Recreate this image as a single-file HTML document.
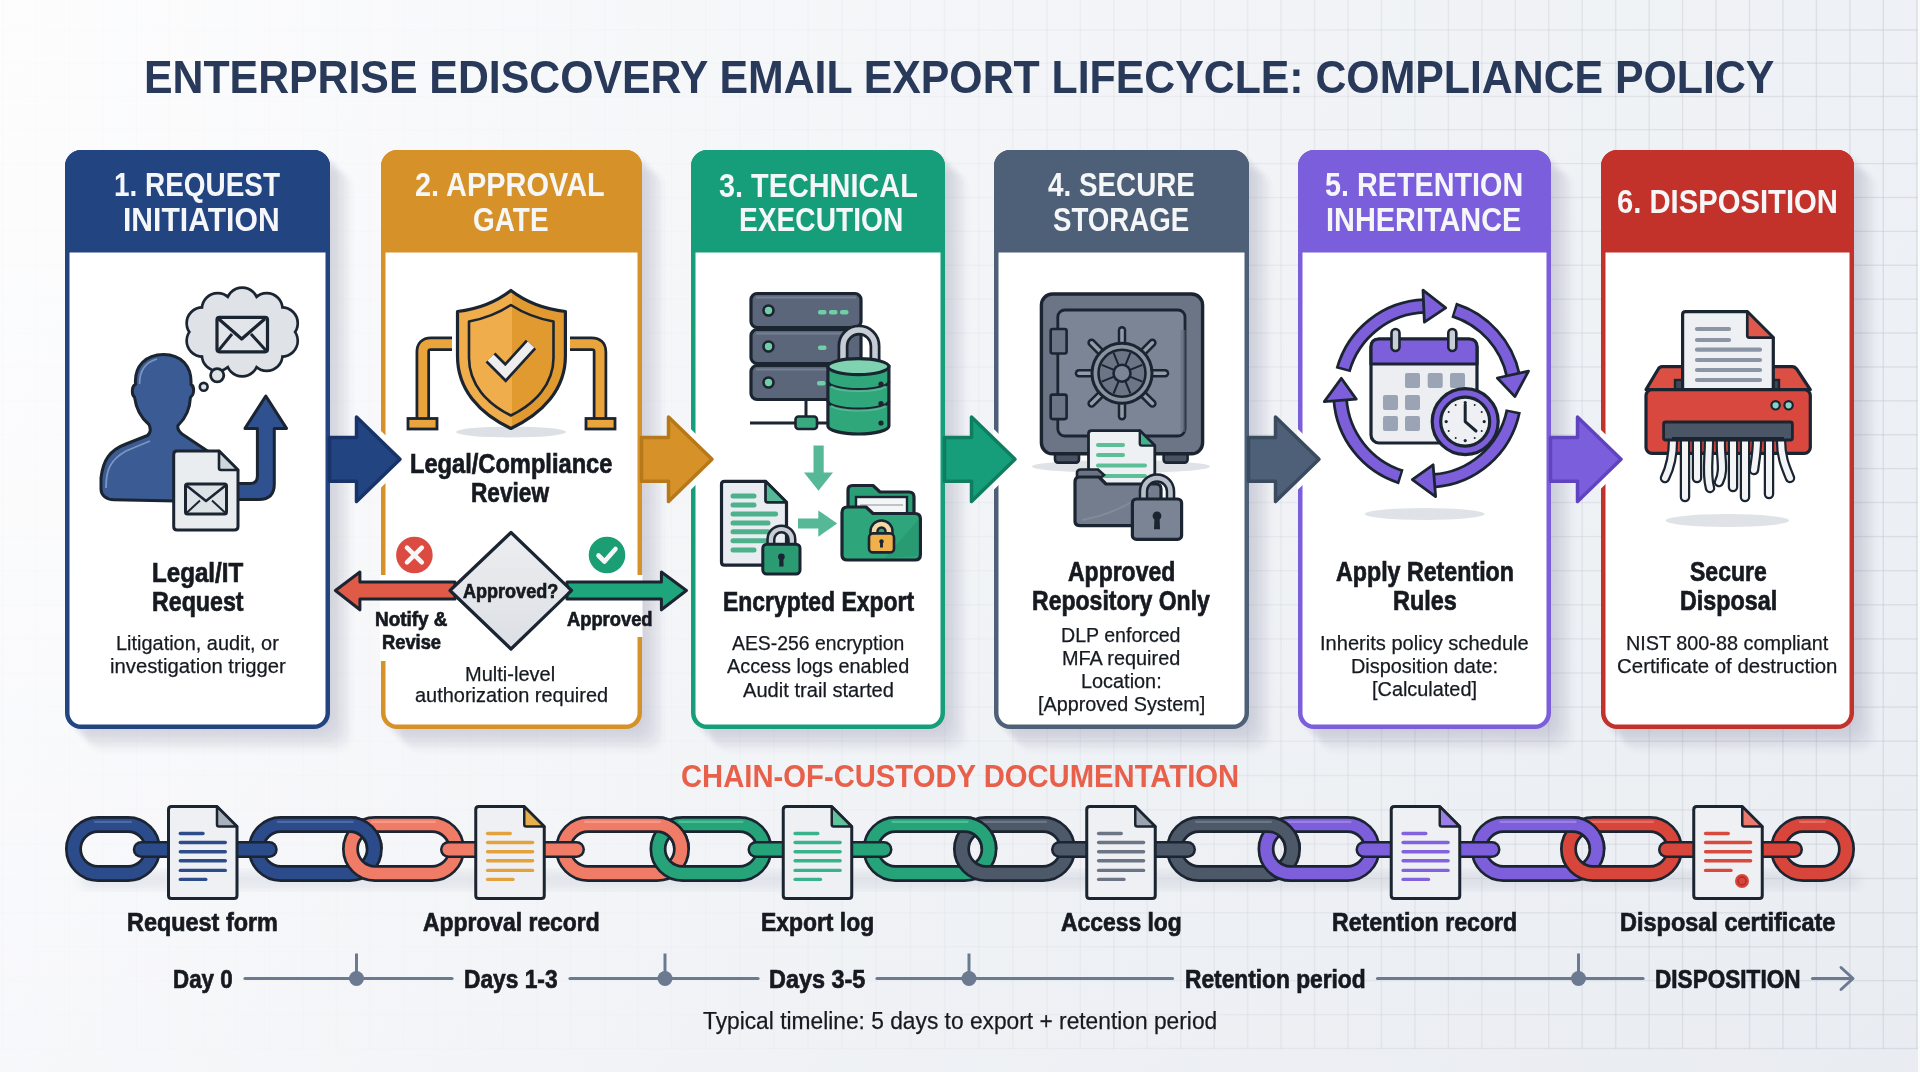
<!DOCTYPE html>
<html><head><meta charset="utf-8"><title>eDiscovery Email Export Lifecycle</title>
<style>
html,body{margin:0;padding:0;}
body{width:1920px;height:1072px;overflow:hidden;position:relative;font-family:"Liberation Sans",sans-serif;
background:linear-gradient(180deg,rgba(120,140,170,0) 0%,rgba(120,140,170,.015) 50%,rgba(120,140,170,.045) 100%),linear-gradient(90deg,#fdfdfe 0%,#f7f8fa 30%,#f2f4f7 60%,#eef1f5 100%);}
.grid{position:absolute;left:0;top:0;width:1918px;height:1050px;
background-image:linear-gradient(90deg,rgba(196,204,215,.55) 1.4px,transparent 1.4px),linear-gradient(0deg,transparent calc(100% - 1.4px),rgba(196,204,215,.55) calc(100% - 1.4px));
background-size:33.57px 100%,100% 33.92px;background-position:2.1px 0,0 -3.02px;
-webkit-mask-image:linear-gradient(90deg,rgba(0,0,0,.06),rgba(0,0,0,.1) 35%,rgba(0,0,0,.4) 60%,rgba(0,0,0,.8) 85%,rgba(0,0,0,1));mask-image:linear-gradient(90deg,rgba(0,0,0,.06),rgba(0,0,0,.1) 35%,rgba(0,0,0,.4) 60%,rgba(0,0,0,.8) 85%,rgba(0,0,0,1));}
.edge{position:absolute;left:1918px;top:0;width:2px;height:1072px;background:#fbfbfc;}
.ov{position:absolute;left:0;top:0;}
.t{position:absolute;white-space:nowrap;line-height:1;transform-origin:0 0;font-family:"Liberation Sans",sans-serif;}
</style></head><body>
<svg class="ov" width="1920" height="1072">
<defs><linearGradient id="hg" gradientUnits="userSpaceOnUse" x1="0" y1="0" x2="1920" y2="0">
<stop offset="0" stop-color="#c6ccd5" stop-opacity="0.030"/>
<stop offset="0.35" stop-color="#c6ccd5" stop-opacity="0.050"/>
<stop offset="0.6" stop-color="#c6ccd5" stop-opacity="0.200"/>
<stop offset="0.85" stop-color="#c6ccd5" stop-opacity="0.400"/>
<stop offset="1" stop-color="#c6ccd5" stop-opacity="0.500"/>
</linearGradient></defs>
<rect x="0" y="29.30" width="1918" height="1.4" fill="url(#hg)"/>
<rect x="0" y="62.53" width="1918" height="1.4" fill="url(#hg)"/>
<rect x="0" y="95.77" width="1918" height="1.4" fill="url(#hg)"/>
<rect x="0" y="129.00" width="1918" height="1.4" fill="url(#hg)"/>
<rect x="0" y="162.89" width="1918" height="1.4" fill="url(#hg)"/>
<rect x="0" y="196.78" width="1918" height="1.4" fill="url(#hg)"/>
<rect x="0" y="230.67" width="1918" height="1.4" fill="url(#hg)"/>
<rect x="0" y="264.56" width="1918" height="1.4" fill="url(#hg)"/>
<rect x="0" y="298.45" width="1918" height="1.4" fill="url(#hg)"/>
<rect x="0" y="332.35" width="1918" height="1.4" fill="url(#hg)"/>
<rect x="0" y="366.24" width="1918" height="1.4" fill="url(#hg)"/>
<rect x="0" y="400.13" width="1918" height="1.4" fill="url(#hg)"/>
<rect x="0" y="434.02" width="1918" height="1.4" fill="url(#hg)"/>
<rect x="0" y="467.91" width="1918" height="1.4" fill="url(#hg)"/>
<rect x="0" y="501.80" width="1918" height="1.4" fill="url(#hg)"/>
<rect x="0" y="535.90" width="1918" height="1.4" fill="url(#hg)"/>
<rect x="0" y="570.00" width="1918" height="1.4" fill="url(#hg)"/>
<rect x="0" y="604.10" width="1918" height="1.4" fill="url(#hg)"/>
<rect x="0" y="638.20" width="1918" height="1.4" fill="url(#hg)"/>
<rect x="0" y="672.30" width="1918" height="1.4" fill="url(#hg)"/>
<rect x="0" y="706.40" width="1918" height="1.4" fill="url(#hg)"/>
<rect x="0" y="740.50" width="1918" height="1.4" fill="url(#hg)"/>
<rect x="0" y="774.82" width="1918" height="1.4" fill="url(#hg)"/>
<rect x="0" y="809.14" width="1918" height="1.4" fill="url(#hg)"/>
<rect x="0" y="843.46" width="1918" height="1.4" fill="url(#hg)"/>
<rect x="0" y="877.78" width="1918" height="1.4" fill="url(#hg)"/>
<rect x="0" y="912.10" width="1918" height="1.4" fill="url(#hg)"/>
<rect x="0" y="946.02" width="1918" height="1.4" fill="url(#hg)"/>
<rect x="0" y="979.95" width="1918" height="1.4" fill="url(#hg)"/>
<rect x="0" y="1013.88" width="1918" height="1.4" fill="url(#hg)"/>
<rect x="0" y="1047.80" width="1918" height="1.4" fill="url(#hg)"/>
<rect x="2.10" y="0" width="1.4" height="1049" fill="#c6ccd5" fill-opacity="0.030"/>
<rect x="35.46" y="0" width="1.4" height="1049" fill="#c6ccd5" fill-opacity="0.031"/>
<rect x="68.82" y="0" width="1.4" height="1049" fill="#c6ccd5" fill-opacity="0.032"/>
<rect x="102.17" y="0" width="1.4" height="1049" fill="#c6ccd5" fill-opacity="0.033"/>
<rect x="135.53" y="0" width="1.4" height="1049" fill="#c6ccd5" fill-opacity="0.034"/>
<rect x="168.89" y="0" width="1.4" height="1049" fill="#c6ccd5" fill-opacity="0.035"/>
<rect x="202.25" y="0" width="1.4" height="1049" fill="#c6ccd5" fill-opacity="0.036"/>
<rect x="235.61" y="0" width="1.4" height="1049" fill="#c6ccd5" fill-opacity="0.037"/>
<rect x="268.97" y="0" width="1.4" height="1049" fill="#c6ccd5" fill-opacity="0.038"/>
<rect x="302.33" y="0" width="1.4" height="1049" fill="#c6ccd5" fill-opacity="0.039"/>
<rect x="335.68" y="0" width="1.4" height="1049" fill="#c6ccd5" fill-opacity="0.040"/>
<rect x="369.04" y="0" width="1.4" height="1049" fill="#c6ccd5" fill-opacity="0.041"/>
<rect x="402.40" y="0" width="1.4" height="1049" fill="#c6ccd5" fill-opacity="0.042"/>
<rect x="435.96" y="0" width="1.4" height="1049" fill="#c6ccd5" fill-opacity="0.043"/>
<rect x="469.53" y="0" width="1.4" height="1049" fill="#c6ccd5" fill-opacity="0.044"/>
<rect x="503.09" y="0" width="1.4" height="1049" fill="#c6ccd5" fill-opacity="0.045"/>
<rect x="536.65" y="0" width="1.4" height="1049" fill="#c6ccd5" fill-opacity="0.046"/>
<rect x="570.21" y="0" width="1.4" height="1049" fill="#c6ccd5" fill-opacity="0.047"/>
<rect x="603.77" y="0" width="1.4" height="1049" fill="#c6ccd5" fill-opacity="0.048"/>
<rect x="637.34" y="0" width="1.4" height="1049" fill="#c6ccd5" fill-opacity="0.049"/>
<rect x="670.90" y="0" width="1.4" height="1049" fill="#c6ccd5" fill-opacity="0.050"/>
<rect x="705.02" y="0" width="1.4" height="1049" fill="#c6ccd5" fill-opacity="0.061"/>
<rect x="739.14" y="0" width="1.4" height="1049" fill="#c6ccd5" fill-opacity="0.071"/>
<rect x="773.25" y="0" width="1.4" height="1049" fill="#c6ccd5" fill-opacity="0.082"/>
<rect x="807.37" y="0" width="1.4" height="1049" fill="#c6ccd5" fill-opacity="0.093"/>
<rect x="841.49" y="0" width="1.4" height="1049" fill="#c6ccd5" fill-opacity="0.103"/>
<rect x="875.61" y="0" width="1.4" height="1049" fill="#c6ccd5" fill-opacity="0.114"/>
<rect x="909.73" y="0" width="1.4" height="1049" fill="#c6ccd5" fill-opacity="0.125"/>
<rect x="943.85" y="0" width="1.4" height="1049" fill="#c6ccd5" fill-opacity="0.135"/>
<rect x="977.96" y="0" width="1.4" height="1049" fill="#c6ccd5" fill-opacity="0.146"/>
<rect x="1012.08" y="0" width="1.4" height="1049" fill="#c6ccd5" fill-opacity="0.156"/>
<rect x="1046.20" y="0" width="1.4" height="1049" fill="#c6ccd5" fill-opacity="0.167"/>
<rect x="1079.66" y="0" width="1.4" height="1049" fill="#c6ccd5" fill-opacity="0.178"/>
<rect x="1113.12" y="0" width="1.4" height="1049" fill="#c6ccd5" fill-opacity="0.188"/>
<rect x="1146.57" y="0" width="1.4" height="1049" fill="#c6ccd5" fill-opacity="0.199"/>
<rect x="1180.03" y="0" width="1.4" height="1049" fill="#c6ccd5" fill-opacity="0.212"/>
<rect x="1213.49" y="0" width="1.4" height="1049" fill="#c6ccd5" fill-opacity="0.226"/>
<rect x="1246.95" y="0" width="1.4" height="1049" fill="#c6ccd5" fill-opacity="0.240"/>
<rect x="1280.40" y="0" width="1.4" height="1049" fill="#c6ccd5" fill-opacity="0.254"/>
<rect x="1313.86" y="0" width="1.4" height="1049" fill="#c6ccd5" fill-opacity="0.268"/>
<rect x="1347.32" y="0" width="1.4" height="1049" fill="#c6ccd5" fill-opacity="0.282"/>
<rect x="1380.78" y="0" width="1.4" height="1049" fill="#c6ccd5" fill-opacity="0.296"/>
<rect x="1414.23" y="0" width="1.4" height="1049" fill="#c6ccd5" fill-opacity="0.310"/>
<rect x="1447.69" y="0" width="1.4" height="1049" fill="#c6ccd5" fill-opacity="0.323"/>
<rect x="1481.15" y="0" width="1.4" height="1049" fill="#c6ccd5" fill-opacity="0.337"/>
<rect x="1514.61" y="0" width="1.4" height="1049" fill="#c6ccd5" fill-opacity="0.351"/>
<rect x="1548.07" y="0" width="1.4" height="1049" fill="#c6ccd5" fill-opacity="0.365"/>
<rect x="1581.52" y="0" width="1.4" height="1049" fill="#c6ccd5" fill-opacity="0.379"/>
<rect x="1614.98" y="0" width="1.4" height="1049" fill="#c6ccd5" fill-opacity="0.393"/>
<rect x="1648.44" y="0" width="1.4" height="1049" fill="#c6ccd5" fill-opacity="0.406"/>
<rect x="1681.90" y="0" width="1.4" height="1049" fill="#c6ccd5" fill-opacity="0.418"/>
<rect x="1715.35" y="0" width="1.4" height="1049" fill="#c6ccd5" fill-opacity="0.429"/>
<rect x="1748.81" y="0" width="1.4" height="1049" fill="#c6ccd5" fill-opacity="0.441"/>
<rect x="1782.27" y="0" width="1.4" height="1049" fill="#c6ccd5" fill-opacity="0.452"/>
<rect x="1815.73" y="0" width="1.4" height="1049" fill="#c6ccd5" fill-opacity="0.464"/>
<rect x="1849.18" y="0" width="1.4" height="1049" fill="#c6ccd5" fill-opacity="0.476"/>
<rect x="1882.64" y="0" width="1.4" height="1049" fill="#c6ccd5" fill-opacity="0.487"/>
<rect x="1916.10" y="0" width="1.4" height="1049" fill="#c6ccd5" fill-opacity="0.499"/>
</svg><div class="edge"></div>
<svg class="ov" width="1920" height="1072" viewBox="0 0 1920 1072">
<defs>
<filter id="blur6" x="-20%" y="-20%" width="140%" height="140%"><feGaussianBlur stdDeviation="6"/></filter>
<filter id="blur3" x="-20%" y="-20%" width="140%" height="140%"><feGaussianBlur stdDeviation="3"/></filter>
<filter id="blur2" x="-20%" y="-20%" width="140%" height="140%"><feGaussianBlur stdDeviation="2"/></filter>
</defs>
<g filter="url(#blur2)">
<path d="M83.8,152.8 H316.8 A16,16 0 0 1 332.8,168.8 V715.8 A16,16 0 0 1 316.8,731.8 H83.8 A16,16 0 0 1 67.8,715.8 V168.8 A16,16 0 0 1 83.8,152.8 Z" fill="#5a6374" opacity="0.033"/>
<path d="M86.6,155.6 H319.6 A16,16 0 0 1 335.6,171.6 V718.6 A16,16 0 0 1 319.6,734.6 H86.6 A16,16 0 0 1 70.6,718.6 V171.6 A16,16 0 0 1 86.6,155.6 Z" fill="#5a6374" opacity="0.033"/>
<path d="M89.4,158.4 H322.4 A16,16 0 0 1 338.4,174.4 V721.4 A16,16 0 0 1 322.4,737.4 H89.4 A16,16 0 0 1 73.4,721.4 V174.4 A16,16 0 0 1 89.4,158.4 Z" fill="#5a6374" opacity="0.033"/>
<path d="M92.2,161.2 H325.2 A16,16 0 0 1 341.2,177.2 V724.2 A16,16 0 0 1 325.2,740.2 H92.2 A16,16 0 0 1 76.2,724.2 V177.2 A16,16 0 0 1 92.2,161.2 Z" fill="#5a6374" opacity="0.033"/>
<path d="M95,164 H328 A16,16 0 0 1 344,180 V727 A16,16 0 0 1 328,743 H95 A16,16 0 0 1 79,727 V180 A16,16 0 0 1 95,164 Z" fill="#5a6374" opacity="0.033"/>
<path d="M97.8,166.8 H330.8 A16,16 0 0 1 346.8,182.8 V729.8 A16,16 0 0 1 330.8,745.8 H97.8 A16,16 0 0 1 81.8,729.8 V182.8 A16,16 0 0 1 97.8,166.8 Z" fill="#5a6374" opacity="0.033"/>
<path d="M100.6,169.6 H333.6 A16,16 0 0 1 349.6,185.6 V732.6 A16,16 0 0 1 333.6,748.6 H100.6 A16,16 0 0 1 84.6,732.6 V185.6 A16,16 0 0 1 100.6,169.6 Z" fill="#5a6374" opacity="0.033"/>
<path d="M103.4,172.4 H336.4 A16,16 0 0 1 352.4,188.4 V735.4 A16,16 0 0 1 336.4,751.4 H103.4 A16,16 0 0 1 87.4,735.4 V188.4 A16,16 0 0 1 103.4,172.4 Z" fill="#5a6374" opacity="0.033"/>
<path d="M399.8,152.8 H628.8 A16,16 0 0 1 644.8,168.8 V715.8 A16,16 0 0 1 628.8,731.8 H399.8 A16,16 0 0 1 383.8,715.8 V168.8 A16,16 0 0 1 399.8,152.8 Z" fill="#5a6374" opacity="0.033"/>
<path d="M402.6,155.6 H631.6 A16,16 0 0 1 647.6,171.6 V718.6 A16,16 0 0 1 631.6,734.6 H402.6 A16,16 0 0 1 386.6,718.6 V171.6 A16,16 0 0 1 402.6,155.6 Z" fill="#5a6374" opacity="0.033"/>
<path d="M405.4,158.4 H634.4 A16,16 0 0 1 650.4,174.4 V721.4 A16,16 0 0 1 634.4,737.4 H405.4 A16,16 0 0 1 389.4,721.4 V174.4 A16,16 0 0 1 405.4,158.4 Z" fill="#5a6374" opacity="0.033"/>
<path d="M408.2,161.2 H637.2 A16,16 0 0 1 653.2,177.2 V724.2 A16,16 0 0 1 637.2,740.2 H408.2 A16,16 0 0 1 392.2,724.2 V177.2 A16,16 0 0 1 408.2,161.2 Z" fill="#5a6374" opacity="0.033"/>
<path d="M411,164 H640 A16,16 0 0 1 656,180 V727 A16,16 0 0 1 640,743 H411 A16,16 0 0 1 395,727 V180 A16,16 0 0 1 411,164 Z" fill="#5a6374" opacity="0.033"/>
<path d="M413.8,166.8 H642.8 A16,16 0 0 1 658.8,182.8 V729.8 A16,16 0 0 1 642.8,745.8 H413.8 A16,16 0 0 1 397.8,729.8 V182.8 A16,16 0 0 1 413.8,166.8 Z" fill="#5a6374" opacity="0.033"/>
<path d="M416.6,169.6 H645.6 A16,16 0 0 1 661.6,185.6 V732.6 A16,16 0 0 1 645.6,748.6 H416.6 A16,16 0 0 1 400.6,732.6 V185.6 A16,16 0 0 1 416.6,169.6 Z" fill="#5a6374" opacity="0.033"/>
<path d="M419.4,172.4 H648.4 A16,16 0 0 1 664.4,188.4 V735.4 A16,16 0 0 1 648.4,751.4 H419.4 A16,16 0 0 1 403.4,735.4 V188.4 A16,16 0 0 1 419.4,172.4 Z" fill="#5a6374" opacity="0.033"/>
<path d="M709.8,152.8 H931.8 A16,16 0 0 1 947.8,168.8 V715.8 A16,16 0 0 1 931.8,731.8 H709.8 A16,16 0 0 1 693.8,715.8 V168.8 A16,16 0 0 1 709.8,152.8 Z" fill="#5a6374" opacity="0.033"/>
<path d="M712.6,155.6 H934.6 A16,16 0 0 1 950.6,171.6 V718.6 A16,16 0 0 1 934.6,734.6 H712.6 A16,16 0 0 1 696.6,718.6 V171.6 A16,16 0 0 1 712.6,155.6 Z" fill="#5a6374" opacity="0.033"/>
<path d="M715.4,158.4 H937.4 A16,16 0 0 1 953.4,174.4 V721.4 A16,16 0 0 1 937.4,737.4 H715.4 A16,16 0 0 1 699.4,721.4 V174.4 A16,16 0 0 1 715.4,158.4 Z" fill="#5a6374" opacity="0.033"/>
<path d="M718.2,161.2 H940.2 A16,16 0 0 1 956.2,177.2 V724.2 A16,16 0 0 1 940.2,740.2 H718.2 A16,16 0 0 1 702.2,724.2 V177.2 A16,16 0 0 1 718.2,161.2 Z" fill="#5a6374" opacity="0.033"/>
<path d="M721,164 H943 A16,16 0 0 1 959,180 V727 A16,16 0 0 1 943,743 H721 A16,16 0 0 1 705,727 V180 A16,16 0 0 1 721,164 Z" fill="#5a6374" opacity="0.033"/>
<path d="M723.8,166.8 H945.8 A16,16 0 0 1 961.8,182.8 V729.8 A16,16 0 0 1 945.8,745.8 H723.8 A16,16 0 0 1 707.8,729.8 V182.8 A16,16 0 0 1 723.8,166.8 Z" fill="#5a6374" opacity="0.033"/>
<path d="M726.6,169.6 H948.6 A16,16 0 0 1 964.6,185.6 V732.6 A16,16 0 0 1 948.6,748.6 H726.6 A16,16 0 0 1 710.6,732.6 V185.6 A16,16 0 0 1 726.6,169.6 Z" fill="#5a6374" opacity="0.033"/>
<path d="M729.4,172.4 H951.4 A16,16 0 0 1 967.4,188.4 V735.4 A16,16 0 0 1 951.4,751.4 H729.4 A16,16 0 0 1 713.4,735.4 V188.4 A16,16 0 0 1 729.4,172.4 Z" fill="#5a6374" opacity="0.033"/>
<path d="M1012.8,152.8 H1235.8 A16,16 0 0 1 1251.8,168.8 V715.8 A16,16 0 0 1 1235.8,731.8 H1012.8 A16,16 0 0 1 996.8,715.8 V168.8 A16,16 0 0 1 1012.8,152.8 Z" fill="#5a6374" opacity="0.033"/>
<path d="M1015.6,155.6 H1238.6 A16,16 0 0 1 1254.6,171.6 V718.6 A16,16 0 0 1 1238.6,734.6 H1015.6 A16,16 0 0 1 999.6,718.6 V171.6 A16,16 0 0 1 1015.6,155.6 Z" fill="#5a6374" opacity="0.033"/>
<path d="M1018.4,158.4 H1241.4 A16,16 0 0 1 1257.4,174.4 V721.4 A16,16 0 0 1 1241.4,737.4 H1018.4 A16,16 0 0 1 1002.4,721.4 V174.4 A16,16 0 0 1 1018.4,158.4 Z" fill="#5a6374" opacity="0.033"/>
<path d="M1021.2,161.2 H1244.2 A16,16 0 0 1 1260.2,177.2 V724.2 A16,16 0 0 1 1244.2,740.2 H1021.2 A16,16 0 0 1 1005.2,724.2 V177.2 A16,16 0 0 1 1021.2,161.2 Z" fill="#5a6374" opacity="0.033"/>
<path d="M1024,164 H1247 A16,16 0 0 1 1263,180 V727 A16,16 0 0 1 1247,743 H1024 A16,16 0 0 1 1008,727 V180 A16,16 0 0 1 1024,164 Z" fill="#5a6374" opacity="0.033"/>
<path d="M1026.8,166.8 H1249.8 A16,16 0 0 1 1265.8,182.8 V729.8 A16,16 0 0 1 1249.8,745.8 H1026.8 A16,16 0 0 1 1010.8,729.8 V182.8 A16,16 0 0 1 1026.8,166.8 Z" fill="#5a6374" opacity="0.033"/>
<path d="M1029.6,169.6 H1252.6 A16,16 0 0 1 1268.6,185.6 V732.6 A16,16 0 0 1 1252.6,748.6 H1029.6 A16,16 0 0 1 1013.6,732.6 V185.6 A16,16 0 0 1 1029.6,169.6 Z" fill="#5a6374" opacity="0.033"/>
<path d="M1032.4,172.4 H1255.4 A16,16 0 0 1 1271.4,188.4 V735.4 A16,16 0 0 1 1255.4,751.4 H1032.4 A16,16 0 0 1 1016.4,735.4 V188.4 A16,16 0 0 1 1032.4,172.4 Z" fill="#5a6374" opacity="0.033"/>
<path d="M1316.8,152.8 H1537.8 A16,16 0 0 1 1553.8,168.8 V715.8 A16,16 0 0 1 1537.8,731.8 H1316.8 A16,16 0 0 1 1300.8,715.8 V168.8 A16,16 0 0 1 1316.8,152.8 Z" fill="#5a6374" opacity="0.033"/>
<path d="M1319.6,155.6 H1540.6 A16,16 0 0 1 1556.6,171.6 V718.6 A16,16 0 0 1 1540.6,734.6 H1319.6 A16,16 0 0 1 1303.6,718.6 V171.6 A16,16 0 0 1 1319.6,155.6 Z" fill="#5a6374" opacity="0.033"/>
<path d="M1322.4,158.4 H1543.4 A16,16 0 0 1 1559.4,174.4 V721.4 A16,16 0 0 1 1543.4,737.4 H1322.4 A16,16 0 0 1 1306.4,721.4 V174.4 A16,16 0 0 1 1322.4,158.4 Z" fill="#5a6374" opacity="0.033"/>
<path d="M1325.2,161.2 H1546.2 A16,16 0 0 1 1562.2,177.2 V724.2 A16,16 0 0 1 1546.2,740.2 H1325.2 A16,16 0 0 1 1309.2,724.2 V177.2 A16,16 0 0 1 1325.2,161.2 Z" fill="#5a6374" opacity="0.033"/>
<path d="M1328,164 H1549 A16,16 0 0 1 1565,180 V727 A16,16 0 0 1 1549,743 H1328 A16,16 0 0 1 1312,727 V180 A16,16 0 0 1 1328,164 Z" fill="#5a6374" opacity="0.033"/>
<path d="M1330.8,166.8 H1551.8 A16,16 0 0 1 1567.8,182.8 V729.8 A16,16 0 0 1 1551.8,745.8 H1330.8 A16,16 0 0 1 1314.8,729.8 V182.8 A16,16 0 0 1 1330.8,166.8 Z" fill="#5a6374" opacity="0.033"/>
<path d="M1333.6,169.6 H1554.6 A16,16 0 0 1 1570.6,185.6 V732.6 A16,16 0 0 1 1554.6,748.6 H1333.6 A16,16 0 0 1 1317.6,732.6 V185.6 A16,16 0 0 1 1333.6,169.6 Z" fill="#5a6374" opacity="0.033"/>
<path d="M1336.4,172.4 H1557.4 A16,16 0 0 1 1573.4,188.4 V735.4 A16,16 0 0 1 1557.4,751.4 H1336.4 A16,16 0 0 1 1320.4,735.4 V188.4 A16,16 0 0 1 1336.4,172.4 Z" fill="#5a6374" opacity="0.033"/>
<path d="M1619.8,152.8 H1840.8 A16,16 0 0 1 1856.8,168.8 V715.8 A16,16 0 0 1 1840.8,731.8 H1619.8 A16,16 0 0 1 1603.8,715.8 V168.8 A16,16 0 0 1 1619.8,152.8 Z" fill="#5a6374" opacity="0.033"/>
<path d="M1622.6,155.6 H1843.6 A16,16 0 0 1 1859.6,171.6 V718.6 A16,16 0 0 1 1843.6,734.6 H1622.6 A16,16 0 0 1 1606.6,718.6 V171.6 A16,16 0 0 1 1622.6,155.6 Z" fill="#5a6374" opacity="0.033"/>
<path d="M1625.4,158.4 H1846.4 A16,16 0 0 1 1862.4,174.4 V721.4 A16,16 0 0 1 1846.4,737.4 H1625.4 A16,16 0 0 1 1609.4,721.4 V174.4 A16,16 0 0 1 1625.4,158.4 Z" fill="#5a6374" opacity="0.033"/>
<path d="M1628.2,161.2 H1849.2 A16,16 0 0 1 1865.2,177.2 V724.2 A16,16 0 0 1 1849.2,740.2 H1628.2 A16,16 0 0 1 1612.2,724.2 V177.2 A16,16 0 0 1 1628.2,161.2 Z" fill="#5a6374" opacity="0.033"/>
<path d="M1631,164 H1852 A16,16 0 0 1 1868,180 V727 A16,16 0 0 1 1852,743 H1631 A16,16 0 0 1 1615,727 V180 A16,16 0 0 1 1631,164 Z" fill="#5a6374" opacity="0.033"/>
<path d="M1633.8,166.8 H1854.8 A16,16 0 0 1 1870.8,182.8 V729.8 A16,16 0 0 1 1854.8,745.8 H1633.8 A16,16 0 0 1 1617.8,729.8 V182.8 A16,16 0 0 1 1633.8,166.8 Z" fill="#5a6374" opacity="0.033"/>
<path d="M1636.6,169.6 H1857.6 A16,16 0 0 1 1873.6,185.6 V732.6 A16,16 0 0 1 1857.6,748.6 H1636.6 A16,16 0 0 1 1620.6,732.6 V185.6 A16,16 0 0 1 1636.6,169.6 Z" fill="#5a6374" opacity="0.033"/>
<path d="M1639.4,172.4 H1860.4 A16,16 0 0 1 1876.4,188.4 V735.4 A16,16 0 0 1 1860.4,751.4 H1639.4 A16,16 0 0 1 1623.4,735.4 V188.4 A16,16 0 0 1 1639.4,172.4 Z" fill="#5a6374" opacity="0.033"/>
</g>
<path d="M81,152.25 H314 A13.75,13.75 0 0 1 327.75,166 V713 A13.75,13.75 0 0 1 314,726.75 H81 A13.75,13.75 0 0 1 67.25,713 V166 A13.75,13.75 0 0 1 81,152.25 Z" fill="#ffffff" stroke="#224582" stroke-width="4.5"/>
<path d="M65,252.5 V166 A16,16 0 0 1 81,150 H314 A16,16 0 0 1 330,166 V252.5 Z" fill="#224582"/>
<path d="M397,152.25 H626 A13.75,13.75 0 0 1 639.75,166 V713 A13.75,13.75 0 0 1 626,726.75 H397 A13.75,13.75 0 0 1 383.25,713 V166 A13.75,13.75 0 0 1 397,152.25 Z" fill="#ffffff" stroke="#d69228" stroke-width="4.5"/>
<path d="M381,252.5 V166 A16,16 0 0 1 397,150 H626 A16,16 0 0 1 642,166 V252.5 Z" fill="#d69228"/>
<path d="M707,152.25 H929 A13.75,13.75 0 0 1 942.75,166 V713 A13.75,13.75 0 0 1 929,726.75 H707 A13.75,13.75 0 0 1 693.25,713 V166 A13.75,13.75 0 0 1 707,152.25 Z" fill="#ffffff" stroke="#169e7a" stroke-width="4.5"/>
<path d="M691,252.5 V166 A16,16 0 0 1 707,150 H929 A16,16 0 0 1 945,166 V252.5 Z" fill="#169e7a"/>
<path d="M1010,152.25 H1233 A13.75,13.75 0 0 1 1246.75,166 V713 A13.75,13.75 0 0 1 1233,726.75 H1010 A13.75,13.75 0 0 1 996.25,713 V166 A13.75,13.75 0 0 1 1010,152.25 Z" fill="#ffffff" stroke="#4e6077" stroke-width="4.5"/>
<path d="M994,252.5 V166 A16,16 0 0 1 1010,150 H1233 A16,16 0 0 1 1249,166 V252.5 Z" fill="#4e6077"/>
<path d="M1314,152.25 H1535 A13.75,13.75 0 0 1 1548.75,166 V713 A13.75,13.75 0 0 1 1535,726.75 H1314 A13.75,13.75 0 0 1 1300.25,713 V166 A13.75,13.75 0 0 1 1314,152.25 Z" fill="#ffffff" stroke="#7b5edc" stroke-width="4.5"/>
<path d="M1298,252.5 V166 A16,16 0 0 1 1314,150 H1535 A16,16 0 0 1 1551,166 V252.5 Z" fill="#7b5edc"/>
<path d="M1617,152.25 H1838 A13.75,13.75 0 0 1 1851.75,166 V713 A13.75,13.75 0 0 1 1838,726.75 H1617 A13.75,13.75 0 0 1 1603.25,713 V166 A13.75,13.75 0 0 1 1617,152.25 Z" fill="#ffffff" stroke="#c3312b" stroke-width="4.5"/>
<path d="M1601,252.5 V166 A16,16 0 0 1 1617,150 H1838 A16,16 0 0 1 1854,166 V252.5 Z" fill="#c3312b"/>
<circle cx="281.9" cy="340.8" r="14.5" fill="#1b2431" stroke="#1b2431" stroke-width="5.4"/>
<circle cx="266.7" cy="355.1" r="14.5" fill="#1b2431" stroke="#1b2431" stroke-width="5.4"/>
<circle cx="242.2" cy="360.6" r="14.5" fill="#1b2431" stroke="#1b2431" stroke-width="5.4"/>
<circle cx="217.7" cy="355.1" r="14.5" fill="#1b2431" stroke="#1b2431" stroke-width="5.4"/>
<circle cx="202.5" cy="340.8" r="14.5" fill="#1b2431" stroke="#1b2431" stroke-width="5.4"/>
<circle cx="202.5" cy="323.2" r="14.5" fill="#1b2431" stroke="#1b2431" stroke-width="5.4"/>
<circle cx="217.7" cy="308.9" r="14.5" fill="#1b2431" stroke="#1b2431" stroke-width="5.4"/>
<circle cx="242.2" cy="303.4" r="14.5" fill="#1b2431" stroke="#1b2431" stroke-width="5.4"/>
<circle cx="266.7" cy="308.9" r="14.5" fill="#1b2431" stroke="#1b2431" stroke-width="5.4"/>
<circle cx="281.9" cy="323.2" r="14.5" fill="#1b2431" stroke="#1b2431" stroke-width="5.4"/>
<circle cx="242.2" cy="332.0" r="36" fill="#1b2431" stroke="#1b2431" stroke-width="5.4"/>
<circle cx="281.9" cy="340.8" r="14.5" fill="#dfe3e8"/>
<circle cx="266.7" cy="355.1" r="14.5" fill="#dfe3e8"/>
<circle cx="242.2" cy="360.6" r="14.5" fill="#dfe3e8"/>
<circle cx="217.7" cy="355.1" r="14.5" fill="#dfe3e8"/>
<circle cx="202.5" cy="340.8" r="14.5" fill="#dfe3e8"/>
<circle cx="202.5" cy="323.2" r="14.5" fill="#dfe3e8"/>
<circle cx="217.7" cy="308.9" r="14.5" fill="#dfe3e8"/>
<circle cx="242.2" cy="303.4" r="14.5" fill="#dfe3e8"/>
<circle cx="266.7" cy="308.9" r="14.5" fill="#dfe3e8"/>
<circle cx="281.9" cy="323.2" r="14.5" fill="#dfe3e8"/>
<circle cx="242.2" cy="332.0" r="36" fill="#dfe3e8"/>
<rect x="217" y="317.3" width="50.5" height="34.5" rx="2.5" fill="#e2e6ea" stroke="#1b2431" stroke-width="3.2"/>
<path d="M218.5,350.5 L232,334 M266,350.5 L251,334" fill="none" stroke="#1b2431" stroke-width="3"/>
<polyline points="218.5,318.8 241.7,339 265,318.8" fill="none" stroke="#1b2431" stroke-width="3.2" stroke-linejoin="round"/>
<circle cx="217.2" cy="375.3" r="6.6" fill="#dfe3e8" stroke="#1b2431" stroke-width="2.8"/>
<circle cx="203.7" cy="386.8" r="3.9" fill="#dfe3e8" stroke="#1b2431" stroke-width="2.6"/>
<path d="M101,489 C101,495 106,499.5 114,499.8 L176,501 L224,501 L224,480 C224,466 219,456 206,450 L185,436 C180,433 177,429 178,425.5 C186,418 190,408 190.5,397 C194.5,395 194.5,386 191,384.5 C192,366 181,354.5 163.5,354.5 C146,354.5 134,366 135.5,384.5 C131.5,386 131.5,395 134.5,397 C136,408 141,418 149,424.5 C151,429 150.5,433 147.5,435.5 L126,444 C110,450 103,460 101,478 Z" fill="#3a5b94" stroke="#1b2431" stroke-width="3" stroke-linejoin="round"/>
<path d="M139.5,384 C139.5,370 146,362 157,359" fill="none" stroke="#8ea5cc" stroke-width="1.8" opacity="0.8"/>
<path d="M106,488 C106,470 110,460 126,451 L150,441" fill="none" stroke="#8ea5cc" stroke-width="1.8" opacity="0.8"/>
<path d="M236,483.5 L250,483.5 Q257.4,483.5 257.4,476 L257.4,428.4 L245,428.4 L265.8,396 L286.5,428.4 L274.3,428.4 L274.3,484 Q274.3,499.5 258.8,499.5 L236,499.5 Z" fill="#2f5190" stroke="#1b2431" stroke-width="3" stroke-linejoin="round"/>
<path d="M177,451 L219,451 L238,470 L238,526.5 Q238,530 234.5,530 L177,530 Q173.7,530 173.7,526.5 L173.7,454.5 Q173.7,451 177,451 Z" fill="#eaedf0" stroke="#1b2431" stroke-width="3" stroke-linejoin="round"/>
<path d="M219,451 L219,468 Q219,470 221,470 L238,470 Z" fill="#cdd5dd" stroke="#1b2431" stroke-width="2.6" stroke-linejoin="round"/>
<rect x="185.5" y="484" width="41" height="30" rx="2" fill="#dde2e7" stroke="#1b2431" stroke-width="3"/>
<polyline points="186.5,485.5 206,501 225.5,485.5" fill="none" stroke="#1b2431" stroke-width="2.6" stroke-linejoin="round"/>
<polyline points="186.5,513 200,500.5" fill="none" stroke="#1b2431" stroke-width="2"/><polyline points="225.5,513 212,500.5" fill="none" stroke="#1b2431" stroke-width="2"/>
<ellipse cx="511" cy="432" rx="55" ry="5.5" fill="#dde0e5"/>
<path d="M452,343.7 L431,343.7 Q422.8,343.7 422.8,352 L422.8,419" fill="none" stroke="#1b2431" stroke-width="14.5"/>
<path d="M452,343.7 L431,343.7 Q422.8,343.7 422.8,352 L422.8,419" fill="none" stroke="#eaa43c" stroke-width="9"/>
<path d="M570,343.7 L591.5,343.7 Q600,343.7 600,352 L600,419" fill="none" stroke="#1b2431" stroke-width="14.5"/>
<path d="M570,343.7 L591.5,343.7 Q600,343.7 600,352 L600,419" fill="none" stroke="#eaa43c" stroke-width="9"/>
<rect x="408" y="418.5" width="29" height="10.5" fill="#eaa43c" stroke="#1b2431" stroke-width="2.8"/>
<rect x="586" y="418.5" width="29" height="10.5" fill="#eaa43c" stroke="#1b2431" stroke-width="2.8"/>
<defs><linearGradient id="shg" x1="457" x2="566" y1="0" y2="0" gradientUnits="userSpaceOnUse"><stop offset="0.5" stop-color="#efad4c"/><stop offset="0.5" stop-color="#e09a2f"/></linearGradient></defs>
<path d="M510.9,290.5 C496,302 479,309 457.5,311.5 L457.5,356 C457.5,390 480,414 510.9,428.5 C541.8,414 565.4,390 565.4,356 L565.4,311.5 C543,309 526,302 510.9,290.5 Z" fill="url(#shg)" stroke="#1b2431" stroke-width="3.2" stroke-linejoin="round"/>
<path d="M510.9,305 C498,313.5 485,318.5 469,321.5 L469,358 C469,384 487,404 510.9,415.5 C534.8,404 553.5,384 553.5,358 L553.5,321.5 C537,318.5 524,313.5 510.9,305 Z" fill="none" stroke="#1b2431" stroke-width="2.6" stroke-linejoin="round"/>
<path d="M490.5,357.5 L505.5,372.5 L531,344.5" fill="none" stroke="#1b2431" stroke-width="14"/>
<path d="M490.5,357.5 L505.5,372.5 L531,344.5" fill="none" stroke="#eeeeee" stroke-width="8.6"/>
<rect x="751" y="293.5" width="110" height="34" rx="6" fill="#5b667b" stroke="#1b2431" stroke-width="3.2"/>
<path d="M756,297.5 H856" stroke="#7c879b" stroke-width="2" opacity="0.8"/>
<circle cx="768.5" cy="310.5" r="5" fill="#6fd0a8" stroke="#1b2431" stroke-width="2.6"/>
<rect x="751" y="329.5" width="110" height="34" rx="6" fill="#5b667b" stroke="#1b2431" stroke-width="3.2"/>
<path d="M756,333.5 H856" stroke="#7c879b" stroke-width="2" opacity="0.8"/>
<circle cx="768.5" cy="346.5" r="5" fill="#6fd0a8" stroke="#1b2431" stroke-width="2.6"/>
<rect x="751" y="365.5" width="110" height="34" rx="6" fill="#5b667b" stroke="#1b2431" stroke-width="3.2"/>
<path d="M756,369.5 H856" stroke="#7c879b" stroke-width="2" opacity="0.8"/>
<circle cx="768.5" cy="382.5" r="5" fill="#6fd0a8" stroke="#1b2431" stroke-width="2.6"/>
<rect x="818" y="310" width="8.5" height="4.5" rx="2" fill="#6fd0a8"/>
<rect x="829" y="310" width="8.5" height="4.5" rx="2" fill="#6fd0a8"/>
<rect x="840" y="310" width="8.5" height="4.5" rx="2" fill="#6fd0a8"/>
<rect x="818" y="345.5" width="8.5" height="4.5" rx="2" fill="#6fd0a8"/>
<rect x="817" y="381" width="8.5" height="4.5" rx="2" fill="#6fd0a8"/>
<path d="M806,400 V418" stroke="#1b2431" stroke-width="3"/>
<path d="M750,423 H830" stroke="#1b2431" stroke-width="3"/>
<rect x="795.5" y="416.5" width="21.5" height="12.5" rx="3" fill="#3aa97f" stroke="#1b2431" stroke-width="2.6"/>
<path d="M843,362 L843,346 A16,16 0 0 1 875,346 L875,362" fill="none" stroke="#1b2431" stroke-width="11"/>
<path d="M843,362 L843,346 A16,16 0 0 1 875,346 L875,362" fill="none" stroke="#c8cdd5" stroke-width="5.5"/>
<path d="M827.9,366.6 L827.9,426 A30.5,8 0 0 0 888.9,426 L888.9,366.6 Z" fill="#2fa77a" stroke="#1b2431" stroke-width="3.2"/>
<path d="M827.9,381.5 A30.5,8 0 0 0 888.9,381.5" fill="none" stroke="#1b2431" stroke-width="3"/>
<path d="M830.9,386.5 A30.5,8 0 0 0 885.9,386.5" fill="none" stroke="#5cc39b" stroke-width="2" opacity="0.8"/>
<path d="M827.9,401 A30.5,8 0 0 0 888.9,401" fill="none" stroke="#1b2431" stroke-width="3"/>
<path d="M830.9,406 A30.5,8 0 0 0 885.9,406" fill="none" stroke="#5cc39b" stroke-width="2" opacity="0.8"/>
<ellipse cx="858.4" cy="366.6" rx="30.5" ry="8" fill="#7fd3b0" stroke="#1b2431" stroke-width="3.2"/>
<circle cx="881" cy="384" r="2.6" fill="#1b2431"/>
<circle cx="881" cy="403.5" r="2.6" fill="#1b2431"/>
<circle cx="881" cy="423" r="2.6" fill="#1b2431"/>
<polygon points="813.5,445.5 823.7,445.5 823.7,472.5 833,472.5 818.5,490.7 804,472.5 813.5,472.5" fill="#55b997"/>
<path d="M724.5,481.3 L765.5,481.3 L786.5,502.3 L786.5,562.2 Q786.5,565.2 783.5,565.2 L724.5,565.2 Q721.5,565.2 721.5,562.2 L721.5,484.3 Q721.5,481.3 724.5,481.3 Z" fill="#e9ecf0" stroke="#1b2431" stroke-width="3.2" stroke-linejoin="round"/>
<path d="M765.5,481.3 L765.5,500.3 Q765.5,502.3 767.5,502.3 L786.5,502.3 Z" fill="#55b997" stroke="#1b2431" stroke-width="2.72" stroke-linejoin="round"/>
<path d="M733,496 H754" stroke="#4db28c" stroke-width="5" stroke-linecap="round"/>
<path d="M733,505 H754" stroke="#4db28c" stroke-width="5" stroke-linecap="round"/>
<path d="M733,514 H775.6" stroke="#4db28c" stroke-width="5" stroke-linecap="round"/>
<path d="M733,523 H768" stroke="#4db28c" stroke-width="5" stroke-linecap="round"/>
<path d="M733,531.7 H768" stroke="#4db28c" stroke-width="5" stroke-linecap="round"/>
<path d="M733,540.8 H768" stroke="#4db28c" stroke-width="5" stroke-linecap="round"/>
<path d="M733,549.9 H754" stroke="#4db28c" stroke-width="5" stroke-linecap="round"/>
<path d="M770.9,547.2 L770.9,539.5 A10.5,10.5 0 0 1 791.9,539.5 L791.9,547.2" fill="none" stroke="#1b2431" stroke-width="9.2"/>
<path d="M770.9,547.2 L770.9,539.5 A10.5,10.5 0 0 1 791.9,539.5 L791.9,547.2" fill="none" stroke="#c8cdd5" stroke-width="4.2"/>
<rect x="762.8" y="544.2" width="37.2" height="29.8" rx="4" fill="#2a9b72" stroke="#1b2431" stroke-width="3"/>
<circle cx="781.4" cy="556.716" r="3.3" fill="#1b2431"/>
<path d="M779.5,556.716 L783.3,556.716 L783.6,566.5 L779.2,566.5 Z" fill="#1b2431"/>
<polygon points="798,518.5 818.3,518.5 818.3,510.4 837.2,523.5 818.3,536.8 818.3,528.6 798,528.6" fill="#55b997"/>
<path d="M848,540 L848,490 Q848,485.5 852.5,485.5 L873,485.5 L880,492 L909,492 Q914,492 914,497 L914,540 Z" fill="#2a9f76" stroke="#1b2431" stroke-width="3.2" stroke-linejoin="round"/>
<rect x="856" y="497" width="51" height="25" fill="#f4f5f7" stroke="#1b2431" stroke-width="2.4"/>
<path d="M860,505 H903" stroke="#bfc3c9" stroke-width="2"/>
<path d="M842,555 L842,512.5 Q842,507 847.5,507 L866,507 L873,513.5 L915,513.5 Q920.4,513.5 920.4,519 L920.4,554.5 Q920.4,560 915,560 L847.5,560 Q842,560 842,555 Z" fill="#2ea57a" stroke="#1b2431" stroke-width="3.2" stroke-linejoin="round"/>
<path d="M885,558 L918,520 L918,556 Z" fill="#24926b" opacity="0.5"/>
<path d="M874.0,536.4 L874.0,531.5 A7.5,7.5 0 0 1 889.0,531.5 L889.0,536.4" fill="none" stroke="#1b2431" stroke-width="9.5"/>
<path d="M874.0,536.4 L874.0,531.5 A7.5,7.5 0 0 1 889.0,531.5 L889.0,536.4" fill="none" stroke="#f4d9a8" stroke-width="4.5"/>
<rect x="869.0" y="533.4" width="25" height="19" rx="4" fill="#f0b04a" stroke="#1b2431" stroke-width="2.6"/>
<circle cx="881.5" cy="541.38" r="2.2" fill="#1b2431"/>
<path d="M880.2,541.38 L882.8,541.38 L883.0,547.6 L880.0,547.6 Z" fill="#1b2431"/>
<ellipse cx="1121" cy="466.5" rx="89" ry="6.5" fill="#dfe2e6"/>
<rect x="1055" y="448" width="24" height="14.6" rx="3" fill="#4a5263" stroke="#1b2431" stroke-width="2.6"/>
<rect x="1163.6" y="448" width="24" height="14.6" rx="3" fill="#4a5263" stroke="#1b2431" stroke-width="2.6"/>
<rect x="1041.4" y="294" width="161.2" height="159.8" rx="11" fill="#6b7585" stroke="#1b2431" stroke-width="3.4"/>
<rect x="1057.8" y="310" width="127.2" height="126" rx="7" fill="#7b8596" stroke="#1b2431" stroke-width="2.8"/>
<path d="M1183,330 V432" stroke="#646e7e" stroke-width="5" opacity="0.6"/>
<rect x="1050.7" y="329" width="15.9" height="24.5" rx="2" fill="#6b7585" stroke="#1b2431" stroke-width="2.6"/>
<rect x="1050.7" y="394.6" width="15.9" height="24.5" rx="2" fill="#6b7585" stroke="#1b2431" stroke-width="2.6"/>
<path d="M1122.0,344.2 L1122.0,330.2" stroke="#1b2431" stroke-width="8.5" stroke-linecap="round"/>
<path d="M1122.0,344.2 L1122.0,330.2" stroke="#939cab" stroke-width="3.5" stroke-linecap="round"/>
<path d="M1142.5,352.7 L1152.4,342.8" stroke="#1b2431" stroke-width="8.5" stroke-linecap="round"/>
<path d="M1142.5,352.7 L1152.4,342.8" stroke="#939cab" stroke-width="3.5" stroke-linecap="round"/>
<path d="M1151.0,373.2 L1165.0,373.2" stroke="#1b2431" stroke-width="8.5" stroke-linecap="round"/>
<path d="M1151.0,373.2 L1165.0,373.2" stroke="#939cab" stroke-width="3.5" stroke-linecap="round"/>
<path d="M1142.5,393.7 L1152.4,403.6" stroke="#1b2431" stroke-width="8.5" stroke-linecap="round"/>
<path d="M1142.5,393.7 L1152.4,403.6" stroke="#939cab" stroke-width="3.5" stroke-linecap="round"/>
<path d="M1122.0,402.2 L1122.0,416.2" stroke="#1b2431" stroke-width="8.5" stroke-linecap="round"/>
<path d="M1122.0,402.2 L1122.0,416.2" stroke="#939cab" stroke-width="3.5" stroke-linecap="round"/>
<path d="M1101.5,393.7 L1091.6,403.6" stroke="#1b2431" stroke-width="8.5" stroke-linecap="round"/>
<path d="M1101.5,393.7 L1091.6,403.6" stroke="#939cab" stroke-width="3.5" stroke-linecap="round"/>
<path d="M1093.0,373.2 L1079.0,373.2" stroke="#1b2431" stroke-width="8.5" stroke-linecap="round"/>
<path d="M1093.0,373.2 L1079.0,373.2" stroke="#939cab" stroke-width="3.5" stroke-linecap="round"/>
<path d="M1101.5,352.7 L1091.6,342.8" stroke="#1b2431" stroke-width="8.5" stroke-linecap="round"/>
<path d="M1101.5,352.7 L1091.6,342.8" stroke="#939cab" stroke-width="3.5" stroke-linecap="round"/>
<circle cx="1122" cy="373.2" r="30" fill="#8a93a2" stroke="#1b2431" stroke-width="3"/>
<circle cx="1122" cy="373.2" r="23.5" fill="#6b7585" stroke="#1b2431" stroke-width="2.6"/>
<path d="M1125.1,365.8 L1130.4,352.9" stroke="#1b2431" stroke-width="2"/>
<path d="M1129.4,370.1 L1142.3,364.8" stroke="#1b2431" stroke-width="2"/>
<path d="M1129.4,376.3 L1142.3,381.6" stroke="#1b2431" stroke-width="2"/>
<path d="M1125.1,380.6 L1130.4,393.5" stroke="#1b2431" stroke-width="2"/>
<path d="M1118.9,380.6 L1113.6,393.5" stroke="#1b2431" stroke-width="2"/>
<path d="M1114.6,376.3 L1101.7,381.6" stroke="#1b2431" stroke-width="2"/>
<path d="M1114.6,370.1 L1101.7,364.8" stroke="#1b2431" stroke-width="2"/>
<path d="M1118.9,365.8 L1113.6,352.9" stroke="#1b2431" stroke-width="2"/>
<circle cx="1122" cy="373.2" r="8.5" fill="#7b8596" stroke="#1b2431" stroke-width="2.6"/>
<path d="M1091.5,430.6 L1139.8,430.6 L1154.8,445.6 L1154.8,489 Q1154.8,492 1151.8,492 L1091.5,492 Q1088.5,492 1088.5,489 L1088.5,433.6 Q1088.5,430.6 1091.5,430.6 Z" fill="#eef1f4" stroke="#1b2431" stroke-width="2.8" stroke-linejoin="round"/>
<path d="M1139.8,430.6 L1139.8,443.6 Q1139.8,445.6 1141.8,445.6 L1154.8,445.6 Z" fill="#3fb28a" stroke="#1b2431" stroke-width="2.38" stroke-linejoin="round"/>
<path d="M1098,445 H1123" stroke="#5cbf98" stroke-width="4" stroke-linecap="round"/>
<path d="M1098,455 H1123" stroke="#5cbf98" stroke-width="4" stroke-linecap="round"/>
<path d="M1098,465.5 H1145" stroke="#5cbf98" stroke-width="4" stroke-linecap="round"/>
<path d="M1098,476 H1145" stroke="#5cbf98" stroke-width="4" stroke-linecap="round"/>
<path d="M1077,478 L1077,473 Q1077,469.5 1081,469.5 L1098,469.5 L1104,475 L1100,478 Z" fill="#6a7484" stroke="#1b2431" stroke-width="2.6"/>
<path d="M1075,521 L1075,482 Q1075,477 1080,477 L1099,477 L1106,484 L1156,484 Q1161,484 1161,489 L1161,521 Q1161,525.6 1156,525.6 L1080,525.6 Q1075,525.6 1075,521 Z" fill="#737d8d" stroke="#1b2431" stroke-width="3.2" stroke-linejoin="round"/>
<path d="M1082,520 C1110,515 1130,505 1150,490" fill="none" stroke="#8c95a3" stroke-width="2" opacity="0.6"/>
<path d="M1143.5,502 L1143.5,491.5 A13.5,13.5 0 0 1 1170.5,491.5 L1170.5,502" fill="none" stroke="#1b2431" stroke-width="9.6"/>
<path d="M1143.5,502 L1143.5,491.5 A13.5,13.5 0 0 1 1170.5,491.5 L1170.5,502" fill="none" stroke="#b8bec8" stroke-width="4.6"/>
<rect x="1132.4" y="499" width="49.2" height="40.4" rx="4" fill="#7a8494" stroke="#1b2431" stroke-width="3.2"/>
<circle cx="1157" cy="515.968" r="4.4" fill="#1b2431"/>
<path d="M1154.5,515.968 L1159.5,515.968 L1160.0,529.3 L1154.0,529.3 Z" fill="#1b2431"/>
<ellipse cx="1424.6" cy="514" rx="60" ry="6" fill="#dfe2e6"/>
<path d="M1343.1,370.3 A87.5,87.5 0 0 1 1424.4,306.1" fill="none" stroke="#1b2431" stroke-width="15.5"/>
<path d="M1343.8,367.9 A87.5,87.5 0 0 1 1424.4,306.1" fill="none" stroke="#7d5fdc" stroke-width="10"/>
<polygon points="1423.0,290.1 1445.7,307.9 1424.4,322.1" fill="#7d5fdc" stroke="#1b2431" stroke-width="2.8" stroke-linejoin="round"/>
<path d="M1453.7,310.0 A87.5,87.5 0 0 1 1513.1,375.3" fill="none" stroke="#1b2431" stroke-width="15.5"/>
<path d="M1456.0,310.8 A87.5,87.5 0 0 1 1513.1,375.3" fill="none" stroke="#7d5fdc" stroke-width="10"/>
<polygon points="1528.5,371.1 1514.9,396.6 1497.3,378.0" fill="#7d5fdc" stroke="#1b2431" stroke-width="2.8" stroke-linejoin="round"/>
<path d="M1513.3,410.8 A87.5,87.5 0 0 1 1433.6,480.8" fill="none" stroke="#1b2431" stroke-width="15.5"/>
<path d="M1512.8,413.2 A87.5,87.5 0 0 1 1433.6,480.8" fill="none" stroke="#7d5fdc" stroke-width="10"/>
<polygon points="1435.6,496.7 1412.3,479.7 1433.1,464.8" fill="#7d5fdc" stroke="#1b2431" stroke-width="2.8" stroke-linejoin="round"/>
<path d="M1401.3,477.0 A87.5,87.5 0 0 1 1340.2,399.6" fill="none" stroke="#1b2431" stroke-width="15.5"/>
<path d="M1399.0,476.2 A87.5,87.5 0 0 1 1340.2,399.6" fill="none" stroke="#7d5fdc" stroke-width="10"/>
<polygon points="1324.3,401.6 1341.3,378.3 1356.2,399.1" fill="#7d5fdc" stroke="#1b2431" stroke-width="2.8" stroke-linejoin="round"/>
<rect x="1371" y="339" width="106" height="104" rx="8" fill="#eceef2" stroke="#1b2431" stroke-width="3.2"/>
<path d="M1371,364 V347 Q1371,339 1379,339 H1469 Q1477,339 1477,347 V364 Z" fill="#7d5fdc" stroke="#1b2431" stroke-width="3.2" stroke-linejoin="round"/>
<rect x="1391.5" y="329" width="8" height="22" rx="4" fill="#c9ced6" stroke="#1b2431" stroke-width="2.6"/>
<rect x="1448.3" y="329" width="8" height="22" rx="4" fill="#c9ced6" stroke="#1b2431" stroke-width="2.6"/>
<rect x="1405" y="373" width="15" height="15" rx="2" fill="#9ba4b4"/>
<rect x="1427.7" y="373" width="15" height="15" rx="2" fill="#9ba4b4"/>
<rect x="1450" y="373" width="15" height="15" rx="2" fill="#9ba4b4"/>
<rect x="1383" y="395" width="15" height="15" rx="2" fill="#9ba4b4"/>
<rect x="1405" y="395" width="15" height="15" rx="2" fill="#9ba4b4"/>
<rect x="1383" y="416" width="15" height="15" rx="2" fill="#9ba4b4"/>
<rect x="1405" y="416" width="15" height="15" rx="2" fill="#9ba4b4"/>
<circle cx="1465.2" cy="421.6" r="33" fill="#7d5fdc" stroke="#1b2431" stroke-width="3.2"/>
<circle cx="1465.2" cy="421.6" r="24.5" fill="#eef0f3" stroke="#1b2431" stroke-width="3.2"/>
<circle cx="1484.2" cy="421.6" r="1.6" fill="#1b2431"/>
<circle cx="1481.7" cy="431.1" r="1" fill="#1b2431"/>
<circle cx="1474.7" cy="438.1" r="1" fill="#1b2431"/>
<circle cx="1465.2" cy="440.6" r="1.6" fill="#1b2431"/>
<circle cx="1455.7" cy="438.1" r="1" fill="#1b2431"/>
<circle cx="1448.7" cy="431.1" r="1" fill="#1b2431"/>
<circle cx="1446.2" cy="421.6" r="1.6" fill="#1b2431"/>
<circle cx="1448.7" cy="412.1" r="1" fill="#1b2431"/>
<circle cx="1455.7" cy="405.1" r="1" fill="#1b2431"/>
<circle cx="1465.2" cy="402.6" r="1.6" fill="#1b2431"/>
<circle cx="1474.7" cy="405.1" r="1" fill="#1b2431"/>
<circle cx="1481.7" cy="412.1" r="1" fill="#1b2431"/>
<path d="M1465.2,404.5 V421.6 L1476,431" fill="none" stroke="#1b2431" stroke-width="3" stroke-linecap="round" stroke-linejoin="round"/>
<ellipse cx="1727.4" cy="520.6" rx="61.6" ry="6.5" fill="#dfe2e6"/>
<path d="M1662,366.7 L1792,366.7 Q1795,366.7 1797,369.5 L1810.3,389.6 L1646,389.6 L1658,369.5 Q1659.5,366.7 1662,366.7 Z" fill="#dc5044" stroke="#1b2431" stroke-width="3.2" stroke-linejoin="round"/>
<rect x="1675" y="380" width="104" height="12" fill="#3e4756" stroke="#1b2431" stroke-width="2.4"/>
<path d="M1685.6,311.6 L1747.3,311.6 L1773.3,337.6 L1773.3,389 Q1773.3,392 1770.3,392 L1685.6,392 Q1682.6,392 1682.6,389 L1682.6,314.6 Q1682.6,311.6 1685.6,311.6 Z" fill="#eef0f3" stroke="#1b2431" stroke-width="3.2" stroke-linejoin="round"/>
<path d="M1747.3,311.6 L1747.3,335.6 Q1747.3,337.6 1749.3,337.6 L1773.3,337.6 Z" fill="#e0584a" stroke="#1b2431" stroke-width="2.72" stroke-linejoin="round"/>
<path d="M1697,329 H1729" stroke="#8a95a5" stroke-width="4.2" stroke-linecap="round"/>
<path d="M1697,340 H1729" stroke="#8a95a5" stroke-width="4.2" stroke-linecap="round"/>
<path d="M1697,349.7 H1760" stroke="#8a95a5" stroke-width="4.2" stroke-linecap="round"/>
<path d="M1697,360 H1760" stroke="#8a95a5" stroke-width="4.2" stroke-linecap="round"/>
<path d="M1697,370 H1760" stroke="#8a95a5" stroke-width="4.2" stroke-linecap="round"/>
<path d="M1697,380 H1760" stroke="#8a95a5" stroke-width="4.2" stroke-linecap="round"/>
<rect x="1646" y="389.6" width="164.3" height="63.8" rx="6" fill="#d9483e" stroke="#1b2431" stroke-width="3.2"/>
<circle cx="1775.6" cy="405.3" r="4.2" fill="#86d3c5" stroke="#1b2431" stroke-width="2.2"/>
<circle cx="1788.6" cy="405.3" r="4.2" fill="#86d3c5" stroke="#1b2431" stroke-width="2.2"/>
<path d="M1673,440 C1673,458 1670,468 1665,478" fill="none" stroke="#1b2431" stroke-width="10.5" stroke-linejoin="round" stroke-linecap="round"/>
<path d="M1685,440 L1685,497" fill="none" stroke="#1b2431" stroke-width="10.5" stroke-linejoin="round" stroke-linecap="round"/>
<path d="M1697,440 L1697,478" fill="none" stroke="#1b2431" stroke-width="10.5" stroke-linejoin="round" stroke-linecap="round"/>
<path d="M1709,440 C1709,460 1706,474 1710,488" fill="none" stroke="#1b2431" stroke-width="10.5" stroke-linejoin="round" stroke-linecap="round"/>
<path d="M1721,440 C1720,458 1725,470 1719,482" fill="none" stroke="#1b2431" stroke-width="10.5" stroke-linejoin="round" stroke-linecap="round"/>
<path d="M1733,440 L1733,487" fill="none" stroke="#1b2431" stroke-width="10.5" stroke-linejoin="round" stroke-linecap="round"/>
<path d="M1745,440 L1745,497" fill="none" stroke="#1b2431" stroke-width="10.5" stroke-linejoin="round" stroke-linecap="round"/>
<path d="M1757,440 C1757,452 1755,462 1754,470" fill="none" stroke="#1b2431" stroke-width="10.5" stroke-linejoin="round" stroke-linecap="round"/>
<path d="M1769,440 L1769,494" fill="none" stroke="#1b2431" stroke-width="10.5" stroke-linejoin="round" stroke-linecap="round"/>
<path d="M1781,440 C1781,458 1786,468 1790,478" fill="none" stroke="#1b2431" stroke-width="10.5" stroke-linejoin="round" stroke-linecap="round"/>
<path d="M1673,440 C1673,458 1670,468 1665,478" fill="none" stroke="#f3f4f6" stroke-width="6" stroke-linecap="round"/>
<path d="M1685,440 L1685,497" fill="none" stroke="#f3f4f6" stroke-width="6" stroke-linecap="round"/>
<path d="M1697,440 L1697,478" fill="none" stroke="#f3f4f6" stroke-width="6" stroke-linecap="round"/>
<path d="M1709,440 C1709,460 1706,474 1710,488" fill="none" stroke="#f3f4f6" stroke-width="6" stroke-linecap="round"/>
<path d="M1721,440 C1720,458 1725,470 1719,482" fill="none" stroke="#f3f4f6" stroke-width="6" stroke-linecap="round"/>
<path d="M1733,440 L1733,487" fill="none" stroke="#f3f4f6" stroke-width="6" stroke-linecap="round"/>
<path d="M1745,440 L1745,497" fill="none" stroke="#f3f4f6" stroke-width="6" stroke-linecap="round"/>
<path d="M1757,440 C1757,452 1755,462 1754,470" fill="none" stroke="#f3f4f6" stroke-width="6" stroke-linecap="round"/>
<path d="M1769,440 L1769,494" fill="none" stroke="#f3f4f6" stroke-width="6" stroke-linecap="round"/>
<path d="M1781,440 C1781,458 1786,468 1790,478" fill="none" stroke="#f3f4f6" stroke-width="6" stroke-linecap="round"/>
<rect x="1663.6" y="422" width="128.8" height="18" rx="2" fill="#4a5565" stroke="#1b2431" stroke-width="2.8"/>
<rect x="1672" y="437" width="112" height="4" fill="#1b2431"/>
<clipPath id="ac0"><rect x="380" y="380" width="9" height="160"/></clipPath>
<polygon points="329.5,437.5 356.5,437.5 356.5,417 400,459.3 356.5,501.5 356.5,481.2 329.5,481.2" fill="#ffffff" stroke="#ffffff" stroke-width="14" stroke-linejoin="round" clip-path="url(#ac0)"/>
<polygon points="329.5,437.5 356.5,437.5 356.5,417 400,459.3 356.5,501.5 356.5,481.2 329.5,481.2" fill="#224582" stroke="#17336a" stroke-width="3.5" stroke-linejoin="round"/>
<clipPath id="ac1"><rect x="690" y="380" width="9" height="160"/></clipPath>
<polygon points="641.5,437.5 668.5,437.5 668.5,417 712,459.3 668.5,501.5 668.5,481.2 641.5,481.2" fill="#ffffff" stroke="#ffffff" stroke-width="14" stroke-linejoin="round" clip-path="url(#ac1)"/>
<polygon points="641.5,437.5 668.5,437.5 668.5,417 712,459.3 668.5,501.5 668.5,481.2 641.5,481.2" fill="#d69228" stroke="#b67818" stroke-width="3.5" stroke-linejoin="round"/>
<clipPath id="ac2"><rect x="993" y="380" width="9" height="160"/></clipPath>
<polygon points="944.5,437.5 971.5,437.5 971.5,417 1015,459.3 971.5,501.5 971.5,481.2 944.5,481.2" fill="#ffffff" stroke="#ffffff" stroke-width="14" stroke-linejoin="round" clip-path="url(#ac2)"/>
<polygon points="944.5,437.5 971.5,437.5 971.5,417 1015,459.3 971.5,501.5 971.5,481.2 944.5,481.2" fill="#169e7a" stroke="#0f7e60" stroke-width="3.5" stroke-linejoin="round"/>
<clipPath id="ac3"><rect x="1297" y="380" width="9" height="160"/></clipPath>
<polygon points="1248.5,437.5 1275.5,437.5 1275.5,417 1319,459.3 1275.5,501.5 1275.5,481.2 1248.5,481.2" fill="#ffffff" stroke="#ffffff" stroke-width="14" stroke-linejoin="round" clip-path="url(#ac3)"/>
<polygon points="1248.5,437.5 1275.5,437.5 1275.5,417 1319,459.3 1275.5,501.5 1275.5,481.2 1248.5,481.2" fill="#4e6077" stroke="#3a4a5f" stroke-width="3.5" stroke-linejoin="round"/>
<clipPath id="ac4"><rect x="1600" y="380" width="9" height="160"/></clipPath>
<polygon points="1550.5,437.5 1577.5,437.5 1577.5,417 1621,459.3 1577.5,501.5 1577.5,481.2 1550.5,481.2" fill="#ffffff" stroke="#ffffff" stroke-width="14" stroke-linejoin="round" clip-path="url(#ac4)"/>
<polygon points="1550.5,437.5 1577.5,437.5 1577.5,417 1621,459.3 1577.5,501.5 1577.5,481.2 1550.5,481.2" fill="#7b5edc" stroke="#5f43bf" stroke-width="3.5" stroke-linejoin="round"/>
<rect x="380" y="575" width="7" height="86" fill="#ffffff"/>
<rect x="635" y="575" width="7.5" height="62" fill="#ffffff"/>
<path d="M455,582 L359.9,582 L359.9,572 L335.4,590.5 L359.9,609.8 L359.9,599 L455,599 Z" fill="#e05a48" stroke="#1b2431" stroke-width="3" stroke-linejoin="round"/>
<path d="M567,582 L661.4,582 L661.4,572 L686.4,590.5 L661.4,609.8 L661.4,599 L567,599 Z" fill="#1fa57c" stroke="#1b2431" stroke-width="3" stroke-linejoin="round"/>
<defs><linearGradient id="dmg" x1="0" y1="0" x2="0" y2="1"><stop offset="0" stop-color="#eceef1"/><stop offset="1" stop-color="#dcdfe4"/></linearGradient></defs>
<polygon points="511,532.5 571.5,590.5 511,649 450,590.5" fill="url(#dmg)" stroke="#1b2431" stroke-width="3.2" stroke-linejoin="round"/>
<circle cx="414.4" cy="555" r="18.3" fill="#dc4b41"/>
<path d="M407,547.6 L421.8,562.4 M421.8,547.6 L407,562.4" stroke="#f6f6f6" stroke-width="4.6" stroke-linecap="round"/>
<circle cx="607" cy="555" r="18.3" fill="#1b9e74"/>
<path d="M598.5,555.5 L604.5,561.5 L615.5,549" fill="none" stroke="#f6f6f6" stroke-width="4.6" stroke-linecap="round" stroke-linejoin="round"/>
<defs>
<clipPath id="ov0"><rect x="338" y="805" width="49" height="44"/></clipPath>
<clipPath id="ov1"><rect x="646" y="805" width="48" height="44"/></clipPath>
<clipPath id="ov2"><rect x="949" y="805" width="53" height="44"/></clipPath>
<clipPath id="ov3"><rect x="1254" y="805" width="51" height="44"/></clipPath>
<clipPath id="ov4"><rect x="1556" y="805" width="54" height="44"/></clipPath>
</defs>
<rect x="80" y="872" width="1780" height="16" rx="8" fill="#8e98a8" opacity="0.18" filter="url(#blur6)"/>
<g><path d="M98.0,824.5 H128.0 A24.5,24.5 0 0 1 128.0,873.5 H98.0 A24.5,24.5 0 0 1 98.0,824.5 Z" fill="none" stroke="#1b2431" stroke-width="17"/><path d="M98.0,824.5 H128.0 A24.5,24.5 0 0 1 128.0,873.5 H98.0 A24.5,24.5 0 0 1 98.0,824.5 Z" fill="none" stroke="#2c4b8a" stroke-width="11.6"/><path d="M95.0,821.8 H131.0" stroke="#4d6aa6" stroke-width="2.2" stroke-linecap="round"/></g>
<g><path d="M280.8,824.5 H349.8 A24.5,24.5 0 0 1 349.8,873.5 H280.8 A24.5,24.5 0 0 1 280.8,824.5 Z" fill="none" stroke="#1b2431" stroke-width="17"/><path d="M280.8,824.5 H349.8 A24.5,24.5 0 0 1 349.8,873.5 H280.8 A24.5,24.5 0 0 1 280.8,824.5 Z" fill="none" stroke="#2c4b8a" stroke-width="11.6"/><path d="M277.8,821.8 H352.8" stroke="#4d6aa6" stroke-width="2.2" stroke-linecap="round"/></g>
<g><path d="M375.0,824.5 H432.0 A24.5,24.5 0 0 1 432.0,873.5 H375.0 A24.5,24.5 0 0 1 375.0,824.5 Z" fill="none" stroke="#1b2431" stroke-width="17"/><path d="M375.0,824.5 H432.0 A24.5,24.5 0 0 1 432.0,873.5 H375.0 A24.5,24.5 0 0 1 375.0,824.5 Z" fill="none" stroke="#f07b66" stroke-width="11.6"/><path d="M372.0,821.8 H435.0" stroke="#f59a88" stroke-width="2.2" stroke-linecap="round"/></g>
<g><path d="M588.0,824.5 H657.0 A24.5,24.5 0 0 1 657.0,873.5 H588.0 A24.5,24.5 0 0 1 588.0,824.5 Z" fill="none" stroke="#1b2431" stroke-width="17"/><path d="M588.0,824.5 H657.0 A24.5,24.5 0 0 1 657.0,873.5 H588.0 A24.5,24.5 0 0 1 588.0,824.5 Z" fill="none" stroke="#f07b66" stroke-width="11.6"/><path d="M585.0,821.8 H660.0" stroke="#f59a88" stroke-width="2.2" stroke-linecap="round"/></g>
<g clip-path="url(#ov0)"><path d="M280.8,824.5 H349.8 A24.5,24.5 0 0 1 349.8,873.5 H280.8 A24.5,24.5 0 0 1 280.8,824.5 Z" fill="none" stroke="#1b2431" stroke-width="17"/><path d="M280.8,824.5 H349.8 A24.5,24.5 0 0 1 349.8,873.5 H280.8 A24.5,24.5 0 0 1 280.8,824.5 Z" fill="none" stroke="#2c4b8a" stroke-width="11.6"/><path d="M277.8,821.8 H352.8" stroke="#4d6aa6" stroke-width="2.2" stroke-linecap="round"/></g>
<g><path d="M682.5,824.5 H739.5 A24.5,24.5 0 0 1 739.5,873.5 H682.5 A24.5,24.5 0 0 1 682.5,824.5 Z" fill="none" stroke="#1b2431" stroke-width="17"/><path d="M682.5,824.5 H739.5 A24.5,24.5 0 0 1 739.5,873.5 H682.5 A24.5,24.5 0 0 1 682.5,824.5 Z" fill="none" stroke="#27a37a" stroke-width="11.6"/><path d="M679.5,821.8 H742.5" stroke="#4cbf97" stroke-width="2.2" stroke-linecap="round"/></g>
<g><path d="M895.5,824.5 H964.5 A24.5,24.5 0 0 1 964.5,873.5 H895.5 A24.5,24.5 0 0 1 895.5,824.5 Z" fill="none" stroke="#1b2431" stroke-width="17"/><path d="M895.5,824.5 H964.5 A24.5,24.5 0 0 1 964.5,873.5 H895.5 A24.5,24.5 0 0 1 895.5,824.5 Z" fill="none" stroke="#27a37a" stroke-width="11.6"/><path d="M892.5,821.8 H967.5" stroke="#4cbf97" stroke-width="2.2" stroke-linecap="round"/></g>
<g clip-path="url(#ov1)"><path d="M588.0,824.5 H657.0 A24.5,24.5 0 0 1 657.0,873.5 H588.0 A24.5,24.5 0 0 1 588.0,824.5 Z" fill="none" stroke="#1b2431" stroke-width="17"/><path d="M588.0,824.5 H657.0 A24.5,24.5 0 0 1 657.0,873.5 H588.0 A24.5,24.5 0 0 1 588.0,824.5 Z" fill="none" stroke="#f07b66" stroke-width="11.6"/><path d="M585.0,821.8 H660.0" stroke="#f59a88" stroke-width="2.2" stroke-linecap="round"/></g>
<g><path d="M986.0,824.5 H1043.0 A24.5,24.5 0 0 1 1043.0,873.5 H986.0 A24.5,24.5 0 0 1 986.0,824.5 Z" fill="none" stroke="#1b2431" stroke-width="17"/><path d="M986.0,824.5 H1043.0 A24.5,24.5 0 0 1 1043.0,873.5 H986.0 A24.5,24.5 0 0 1 986.0,824.5 Z" fill="none" stroke="#4d5869" stroke-width="11.6"/><path d="M983.0,821.8 H1046.0" stroke="#6b7686" stroke-width="2.2" stroke-linecap="round"/></g>
<g><path d="M1199.0,824.5 H1268.0 A24.5,24.5 0 0 1 1268.0,873.5 H1199.0 A24.5,24.5 0 0 1 1199.0,824.5 Z" fill="none" stroke="#1b2431" stroke-width="17"/><path d="M1199.0,824.5 H1268.0 A24.5,24.5 0 0 1 1268.0,873.5 H1199.0 A24.5,24.5 0 0 1 1199.0,824.5 Z" fill="none" stroke="#4d5869" stroke-width="11.6"/><path d="M1196.0,821.8 H1271.0" stroke="#6b7686" stroke-width="2.2" stroke-linecap="round"/></g>
<g clip-path="url(#ov2)"><path d="M895.5,824.5 H964.5 A24.5,24.5 0 0 1 964.5,873.5 H895.5 A24.5,24.5 0 0 1 895.5,824.5 Z" fill="none" stroke="#1b2431" stroke-width="17"/><path d="M895.5,824.5 H964.5 A24.5,24.5 0 0 1 964.5,873.5 H895.5 A24.5,24.5 0 0 1 895.5,824.5 Z" fill="none" stroke="#27a37a" stroke-width="11.6"/><path d="M892.5,821.8 H967.5" stroke="#4cbf97" stroke-width="2.2" stroke-linecap="round"/></g>
<g><path d="M1290.5,824.5 H1347.5 A24.5,24.5 0 0 1 1347.5,873.5 H1290.5 A24.5,24.5 0 0 1 1290.5,824.5 Z" fill="none" stroke="#1b2431" stroke-width="17"/><path d="M1290.5,824.5 H1347.5 A24.5,24.5 0 0 1 1347.5,873.5 H1290.5 A24.5,24.5 0 0 1 1290.5,824.5 Z" fill="none" stroke="#7e5fdb" stroke-width="11.6"/><path d="M1287.5,821.8 H1350.5" stroke="#9a80e6" stroke-width="2.2" stroke-linecap="round"/></g>
<g><path d="M1503.5,824.5 H1572.5 A24.5,24.5 0 0 1 1572.5,873.5 H1503.5 A24.5,24.5 0 0 1 1503.5,824.5 Z" fill="none" stroke="#1b2431" stroke-width="17"/><path d="M1503.5,824.5 H1572.5 A24.5,24.5 0 0 1 1572.5,873.5 H1503.5 A24.5,24.5 0 0 1 1503.5,824.5 Z" fill="none" stroke="#7e5fdb" stroke-width="11.6"/><path d="M1500.5,821.8 H1575.5" stroke="#9a80e6" stroke-width="2.2" stroke-linecap="round"/></g>
<g clip-path="url(#ov3)"><path d="M1199.0,824.5 H1268.0 A24.5,24.5 0 0 1 1268.0,873.5 H1199.0 A24.5,24.5 0 0 1 1199.0,824.5 Z" fill="none" stroke="#1b2431" stroke-width="17"/><path d="M1199.0,824.5 H1268.0 A24.5,24.5 0 0 1 1268.0,873.5 H1199.0 A24.5,24.5 0 0 1 1199.0,824.5 Z" fill="none" stroke="#4d5869" stroke-width="11.6"/><path d="M1196.0,821.8 H1271.0" stroke="#6b7686" stroke-width="2.2" stroke-linecap="round"/></g>
<g><path d="M1593.0,824.5 H1650.0 A24.5,24.5 0 0 1 1650.0,873.5 H1593.0 A24.5,24.5 0 0 1 1593.0,824.5 Z" fill="none" stroke="#1b2431" stroke-width="17"/><path d="M1593.0,824.5 H1650.0 A24.5,24.5 0 0 1 1650.0,873.5 H1593.0 A24.5,24.5 0 0 1 1593.0,824.5 Z" fill="none" stroke="#d8453b" stroke-width="11.6"/><path d="M1590.0,821.8 H1653.0" stroke="#e66b62" stroke-width="2.2" stroke-linecap="round"/></g>
<g><path d="M1803.0,824.5 H1822.0 A24.5,24.5 0 0 1 1822.0,873.5 H1803.0 A24.5,24.5 0 0 1 1803.0,824.5 Z" fill="none" stroke="#1b2431" stroke-width="17"/><path d="M1803.0,824.5 H1822.0 A24.5,24.5 0 0 1 1822.0,873.5 H1803.0 A24.5,24.5 0 0 1 1803.0,824.5 Z" fill="none" stroke="#d8453b" stroke-width="11.6"/><path d="M1800.0,821.8 H1825.0" stroke="#e66b62" stroke-width="2.2" stroke-linecap="round"/></g>
<g clip-path="url(#ov4)"><path d="M1503.5,824.5 H1572.5 A24.5,24.5 0 0 1 1572.5,873.5 H1503.5 A24.5,24.5 0 0 1 1503.5,824.5 Z" fill="none" stroke="#1b2431" stroke-width="17"/><path d="M1503.5,824.5 H1572.5 A24.5,24.5 0 0 1 1572.5,873.5 H1503.5 A24.5,24.5 0 0 1 1503.5,824.5 Z" fill="none" stroke="#7e5fdb" stroke-width="11.6"/><path d="M1500.5,821.8 H1575.5" stroke="#9a80e6" stroke-width="2.2" stroke-linecap="round"/></g>
<path d="M141.25,849.5 H269.25" stroke="#1b2431" stroke-width="17" stroke-linecap="round"/>
<path d="M141.25,849.5 H269.25" stroke="#2c4b8a" stroke-width="12" stroke-linecap="round"/>
<path d="M448.5,849.5 H576.5" stroke="#1b2431" stroke-width="17" stroke-linecap="round"/>
<path d="M448.5,849.5 H576.5" stroke="#f07b66" stroke-width="12" stroke-linecap="round"/>
<path d="M756.0,849.5 H884.0" stroke="#1b2431" stroke-width="17" stroke-linecap="round"/>
<path d="M756.0,849.5 H884.0" stroke="#27a37a" stroke-width="12" stroke-linecap="round"/>
<path d="M1059.5,849.5 H1187.5" stroke="#1b2431" stroke-width="17" stroke-linecap="round"/>
<path d="M1059.5,849.5 H1187.5" stroke="#4d5869" stroke-width="12" stroke-linecap="round"/>
<path d="M1364.0,849.5 H1492.0" stroke="#1b2431" stroke-width="17" stroke-linecap="round"/>
<path d="M1364.0,849.5 H1492.0" stroke="#7e5fdb" stroke-width="12" stroke-linecap="round"/>
<path d="M1666.5,849.5 H1794.5" stroke="#1b2431" stroke-width="17" stroke-linecap="round"/>
<path d="M1666.5,849.5 H1794.5" stroke="#d8453b" stroke-width="12" stroke-linecap="round"/>
<path d="M171.5,806.6 L217.0,806.6 L237.0,826.6 L237.0,895.5 Q237.0,898.5 234.0,898.5 L171.5,898.5 Q168.5,898.5 168.5,895.5 L168.5,809.6 Q168.5,806.6 171.5,806.6 Z" fill="#eef0f3" stroke="#1b2431" stroke-width="3" stroke-linejoin="round"/>
<path d="M217.0,806.6 L217.0,824.6 Q217.0,826.6 219.0,826.6 L237.0,826.6 Z" fill="#a9b1bc" stroke="#1b2431" stroke-width="2.5" stroke-linejoin="round"/>
<path d="M180.3,833.5 H203.0" stroke="#2d4c8a" stroke-width="3.4" stroke-linecap="round"/>
<path d="M180.3,842.5 H225.3" stroke="#2d4c8a" stroke-width="3.4" stroke-linecap="round"/>
<path d="M180.3,851.7 H225.3" stroke="#2d4c8a" stroke-width="3.4" stroke-linecap="round"/>
<path d="M180.3,860.7 H225.3" stroke="#2d4c8a" stroke-width="3.4" stroke-linecap="round"/>
<path d="M180.3,870.4 H225.3" stroke="#2d4c8a" stroke-width="3.4" stroke-linecap="round"/>
<path d="M180.3,879.4 H205.8" stroke="#2d4c8a" stroke-width="3.4" stroke-linecap="round"/>
<path d="M478.75,806.6 L524.25,806.6 L544.25,826.6 L544.25,895.5 Q544.25,898.5 541.25,898.5 L478.75,898.5 Q475.75,898.5 475.75,895.5 L475.75,809.6 Q475.75,806.6 478.75,806.6 Z" fill="#eef0f3" stroke="#1b2431" stroke-width="3" stroke-linejoin="round"/>
<path d="M524.25,806.6 L524.25,824.6 Q524.25,826.6 526.25,826.6 L544.25,826.6 Z" fill="#e8b04a" stroke="#1b2431" stroke-width="2.5" stroke-linejoin="round"/>
<path d="M487.6,833.5 H510.2" stroke="#e3a23e" stroke-width="3.4" stroke-linecap="round"/>
<path d="M487.6,842.5 H532.6" stroke="#e3a23e" stroke-width="3.4" stroke-linecap="round"/>
<path d="M487.6,851.7 H532.6" stroke="#e3a23e" stroke-width="3.4" stroke-linecap="round"/>
<path d="M487.6,860.7 H532.6" stroke="#e3a23e" stroke-width="3.4" stroke-linecap="round"/>
<path d="M487.6,870.4 H532.6" stroke="#e3a23e" stroke-width="3.4" stroke-linecap="round"/>
<path d="M487.6,879.4 H513.0" stroke="#e3a23e" stroke-width="3.4" stroke-linecap="round"/>
<path d="M786.25,806.6 L831.75,806.6 L851.75,826.6 L851.75,895.5 Q851.75,898.5 848.75,898.5 L786.25,898.5 Q783.25,898.5 783.25,895.5 L783.25,809.6 Q783.25,806.6 786.25,806.6 Z" fill="#eef0f3" stroke="#1b2431" stroke-width="3" stroke-linejoin="round"/>
<path d="M831.75,806.6 L831.75,824.6 Q831.75,826.6 833.75,826.6 L851.75,826.6 Z" fill="#5cc39b" stroke="#1b2431" stroke-width="2.5" stroke-linejoin="round"/>
<path d="M795.1,833.5 H817.8" stroke="#3bb38a" stroke-width="3.4" stroke-linecap="round"/>
<path d="M795.1,842.5 H840.1" stroke="#3bb38a" stroke-width="3.4" stroke-linecap="round"/>
<path d="M795.1,851.7 H840.1" stroke="#3bb38a" stroke-width="3.4" stroke-linecap="round"/>
<path d="M795.1,860.7 H840.1" stroke="#3bb38a" stroke-width="3.4" stroke-linecap="round"/>
<path d="M795.1,870.4 H840.1" stroke="#3bb38a" stroke-width="3.4" stroke-linecap="round"/>
<path d="M795.1,879.4 H820.5" stroke="#3bb38a" stroke-width="3.4" stroke-linecap="round"/>
<path d="M1089.75,806.6 L1135.25,806.6 L1155.25,826.6 L1155.25,895.5 Q1155.25,898.5 1152.25,898.5 L1089.75,898.5 Q1086.75,898.5 1086.75,895.5 L1086.75,809.6 Q1086.75,806.6 1089.75,806.6 Z" fill="#eef0f3" stroke="#1b2431" stroke-width="3" stroke-linejoin="round"/>
<path d="M1135.25,806.6 L1135.25,824.6 Q1135.25,826.6 1137.25,826.6 L1155.25,826.6 Z" fill="#9aa3b0" stroke="#1b2431" stroke-width="2.5" stroke-linejoin="round"/>
<path d="M1098.6,833.5 H1121.2" stroke="#6b7585" stroke-width="3.4" stroke-linecap="round"/>
<path d="M1098.6,842.5 H1143.6" stroke="#6b7585" stroke-width="3.4" stroke-linecap="round"/>
<path d="M1098.6,851.7 H1143.6" stroke="#6b7585" stroke-width="3.4" stroke-linecap="round"/>
<path d="M1098.6,860.7 H1143.6" stroke="#6b7585" stroke-width="3.4" stroke-linecap="round"/>
<path d="M1098.6,870.4 H1143.6" stroke="#6b7585" stroke-width="3.4" stroke-linecap="round"/>
<path d="M1098.6,879.4 H1124.0" stroke="#6b7585" stroke-width="3.4" stroke-linecap="round"/>
<path d="M1394.25,806.6 L1439.75,806.6 L1459.75,826.6 L1459.75,895.5 Q1459.75,898.5 1456.75,898.5 L1394.25,898.5 Q1391.25,898.5 1391.25,895.5 L1391.25,809.6 Q1391.25,806.6 1394.25,806.6 Z" fill="#eef0f3" stroke="#1b2431" stroke-width="3" stroke-linejoin="round"/>
<path d="M1439.75,806.6 L1439.75,824.6 Q1439.75,826.6 1441.75,826.6 L1459.75,826.6 Z" fill="#9a80e6" stroke="#1b2431" stroke-width="2.5" stroke-linejoin="round"/>
<path d="M1403.1,833.5 H1425.8" stroke="#8262dd" stroke-width="3.4" stroke-linecap="round"/>
<path d="M1403.1,842.5 H1448.1" stroke="#8262dd" stroke-width="3.4" stroke-linecap="round"/>
<path d="M1403.1,851.7 H1448.1" stroke="#8262dd" stroke-width="3.4" stroke-linecap="round"/>
<path d="M1403.1,860.7 H1448.1" stroke="#8262dd" stroke-width="3.4" stroke-linecap="round"/>
<path d="M1403.1,870.4 H1448.1" stroke="#8262dd" stroke-width="3.4" stroke-linecap="round"/>
<path d="M1403.1,879.4 H1428.5" stroke="#8262dd" stroke-width="3.4" stroke-linecap="round"/>
<path d="M1696.75,806.6 L1742.25,806.6 L1762.25,826.6 L1762.25,895.5 Q1762.25,898.5 1759.25,898.5 L1696.75,898.5 Q1693.75,898.5 1693.75,895.5 L1693.75,809.6 Q1693.75,806.6 1696.75,806.6 Z" fill="#eef0f3" stroke="#1b2431" stroke-width="3" stroke-linejoin="round"/>
<path d="M1742.25,806.6 L1742.25,824.6 Q1742.25,826.6 1744.25,826.6 L1762.25,826.6 Z" fill="#ee7a6d" stroke="#1b2431" stroke-width="2.5" stroke-linejoin="round"/>
<path d="M1705.6,833.5 H1728.2" stroke="#d84a3e" stroke-width="3.4" stroke-linecap="round"/>
<path d="M1705.6,842.5 H1750.6" stroke="#d84a3e" stroke-width="3.4" stroke-linecap="round"/>
<path d="M1705.6,851.7 H1750.6" stroke="#d84a3e" stroke-width="3.4" stroke-linecap="round"/>
<path d="M1705.6,860.7 H1750.6" stroke="#d84a3e" stroke-width="3.4" stroke-linecap="round"/>
<path d="M1705.6,870.4 H1731.0" stroke="#d84a3e" stroke-width="3.4" stroke-linecap="round"/>
<circle cx="1742" cy="881" r="7" fill="#d8453b"/><circle cx="1742" cy="881" r="4" fill="none" stroke="#b02d25" stroke-width="1.5"/>
<path d="M245,978.5 H452" stroke="#6b7a90" stroke-width="3.2" stroke-linecap="round"/>
<path d="M570,978.5 H758" stroke="#6b7a90" stroke-width="3.2" stroke-linecap="round"/>
<path d="M877,978.5 H1172.5" stroke="#6b7a90" stroke-width="3.2" stroke-linecap="round"/>
<path d="M1377.5,978.5 H1643" stroke="#6b7a90" stroke-width="3.2" stroke-linecap="round"/>
<path d="M1812.5,978.5 H1852" stroke="#6b7a90" stroke-width="3.2" stroke-linecap="round"/>
<path d="M356.5,953.5 V978.5" stroke="#6b7a90" stroke-width="3"/>
<circle cx="356.5" cy="978.5" r="7.5" fill="#6b7a90"/>
<path d="M665,953.5 V978.5" stroke="#6b7a90" stroke-width="3"/>
<circle cx="665" cy="978.5" r="7.5" fill="#6b7a90"/>
<path d="M969,953.5 V978.5" stroke="#6b7a90" stroke-width="3"/>
<circle cx="969" cy="978.5" r="7.5" fill="#6b7a90"/>
<path d="M1578.5,953.5 V978.5" stroke="#6b7a90" stroke-width="3"/>
<circle cx="1578.5" cy="978.5" r="7.5" fill="#6b7a90"/>
<path d="M1841,967.5 L1853,978.5 L1841,989.5" fill="none" stroke="#6b7a90" stroke-width="3" stroke-linecap="round" stroke-linejoin="round"/>
</svg>
<div class="t" style="left:143.71px;top:53.9px;font-size:46px;font-weight:700;color:#28395a;transform:scaleX(0.9303)">ENTERPRISE EDISCOVERY EMAIL EXPORT LIFECYCLE: COMPLIANCE POLICY</div>
<div class="t" style="left:114.28px;top:169.45px;font-size:32.5px;font-weight:700;color:#f5f6f8;transform:scaleX(0.8590)">1. REQUEST</div>
<div class="t" style="left:122.75px;top:203.75px;font-size:32.5px;font-weight:700;color:#f5f6f8;transform:scaleX(0.9262)">INITIATION</div>
<div class="t" style="left:415.11px;top:169.45px;font-size:32.5px;font-weight:700;color:#f5f6f8;transform:scaleX(0.8906)">2. APPROVAL</div>
<div class="t" style="left:473.04px;top:203.75px;font-size:32.5px;font-weight:700;color:#f5f6f8;transform:scaleX(0.8597)">GATE</div>
<div class="t" style="left:719px;top:169.65px;font-size:32.5px;font-weight:700;color:#f5f6f8;transform:scaleX(0.8877)">3. TECHNICAL</div>
<div class="t" style="left:739.27px;top:204.05px;font-size:32.5px;font-weight:700;color:#f5f6f8;transform:scaleX(0.8666)">EXECUTION</div>
<div class="t" style="left:1048px;top:169.45px;font-size:32.5px;font-weight:700;color:#f5f6f8;transform:scaleX(0.8561)">4. SECURE</div>
<div class="t" style="left:1053.4px;top:203.75px;font-size:32.5px;font-weight:700;color:#f5f6f8;transform:scaleX(0.8505)">STORAGE</div>
<div class="t" style="left:1325.11px;top:169.45px;font-size:32.5px;font-weight:700;color:#f5f6f8;transform:scaleX(0.8851)">5. RETENTION</div>
<div class="t" style="left:1326.22px;top:203.75px;font-size:32.5px;font-weight:700;color:#f5f6f8;transform:scaleX(0.8894)">INHERITANCE</div>
<div class="t" style="left:1617.1px;top:185.75px;font-size:32.5px;font-weight:700;color:#f5f6f8;transform:scaleX(0.8991)">6. DISPOSITION</div>
<div class="t" style="left:152.11px;top:559.5px;font-size:27px;font-weight:700;color:#161a20;transform:scaleX(0.8934);-webkit-text-stroke:0.7px #161a20">Legal/IT</div>
<div class="t" style="left:152.14px;top:588.5px;font-size:27px;font-weight:700;color:#161a20;transform:scaleX(0.8595);-webkit-text-stroke:0.7px #161a20">Request</div>
<div class="t" style="left:409.62px;top:451px;font-size:27px;font-weight:700;color:#161a20;transform:scaleX(0.8759);-webkit-text-stroke:0.7px #161a20">Legal/Compliance</div>
<div class="t" style="left:471.16px;top:480.2px;font-size:27px;font-weight:700;color:#161a20;transform:scaleX(0.8383);-webkit-text-stroke:0.7px #161a20">Review</div>
<div class="t" style="left:722.95px;top:589.1px;font-size:27px;font-weight:700;color:#161a20;transform:scaleX(0.8489);-webkit-text-stroke:0.7px #161a20">Encrypted Export</div>
<div class="t" style="left:1068px;top:559.3px;font-size:27px;font-weight:700;color:#161a20;transform:scaleX(0.8513);-webkit-text-stroke:0.7px #161a20">Approved</div>
<div class="t" style="left:1032.15px;top:588.2px;font-size:27px;font-weight:700;color:#161a20;transform:scaleX(0.8529);-webkit-text-stroke:0.7px #161a20">Repository Only</div>
<div class="t" style="left:1336px;top:559.3px;font-size:27px;font-weight:700;color:#161a20;transform:scaleX(0.8598);-webkit-text-stroke:0.7px #161a20">Apply Retention</div>
<div class="t" style="left:1393.13px;top:588.2px;font-size:27px;font-weight:700;color:#161a20;transform:scaleX(0.8670);-webkit-text-stroke:0.7px #161a20">Rules</div>
<div class="t" style="left:1689.7px;top:559.3px;font-size:27px;font-weight:700;color:#161a20;transform:scaleX(0.8518);-webkit-text-stroke:0.7px #161a20">Secure</div>
<div class="t" style="left:1679.54px;top:588.2px;font-size:27px;font-weight:700;color:#161a20;transform:scaleX(0.8634);-webkit-text-stroke:0.7px #161a20">Disposal</div>
<div class="t" style="left:463px;top:580.8px;font-size:20px;font-weight:700;color:#161a20;transform:scaleX(0.9018);-webkit-text-stroke:0.7px #161a20">Approved?</div>
<div class="t" style="left:375.06px;top:609px;font-size:20px;font-weight:700;color:#161a20;transform:scaleX(0.9439);-webkit-text-stroke:0.7px #161a20">Notify &amp;</div>
<div class="t" style="left:382.08px;top:632.3px;font-size:20px;font-weight:700;color:#161a20;transform:scaleX(0.9153);-webkit-text-stroke:0.7px #161a20">Revise</div>
<div class="t" style="left:567.4px;top:609px;font-size:20px;font-weight:700;color:#161a20;transform:scaleX(0.9162);-webkit-text-stroke:0.7px #161a20">Approved</div>
<div class="t" style="left:116.03px;top:633.25px;font-size:20.5px;font-weight:400;color:#161a20;transform:scaleX(0.9718);-webkit-text-stroke:0.25px #161a20">Litigation, audit, or</div>
<div class="t" style="left:109.51px;top:655.75px;font-size:20.5px;font-weight:400;color:#161a20;transform:scaleX(0.9891);-webkit-text-stroke:0.25px #161a20">investigation trigger</div>
<div class="t" style="left:465.42px;top:663.75px;font-size:20.5px;font-weight:400;color:#161a20;transform:scaleX(0.9767);-webkit-text-stroke:0.25px #161a20">Multi-level</div>
<div class="t" style="left:414.8px;top:685.45px;font-size:20.5px;font-weight:400;color:#161a20;transform:scaleX(0.9738);-webkit-text-stroke:0.25px #161a20">authorization required</div>
<div class="t" style="left:731.8px;top:633.15px;font-size:20.5px;font-weight:400;color:#161a20;transform:scaleX(0.9449);-webkit-text-stroke:0.25px #161a20">AES-256 encryption</div>
<div class="t" style="left:727px;top:656.05px;font-size:20.5px;font-weight:400;color:#161a20;transform:scaleX(0.9689);-webkit-text-stroke:0.25px #161a20">Access logs enabled</div>
<div class="t" style="left:742.7px;top:679.55px;font-size:20.5px;font-weight:400;color:#161a20;transform:scaleX(0.9816);-webkit-text-stroke:0.25px #161a20">Audit trail started</div>
<div class="t" style="left:1060.84px;top:624.65px;font-size:20.5px;font-weight:400;color:#161a20;transform:scaleX(0.9560);-webkit-text-stroke:0.25px #161a20">DLP enforced</div>
<div class="t" style="left:1061.53px;top:647.65px;font-size:20.5px;font-weight:400;color:#161a20;transform:scaleX(0.9700);-webkit-text-stroke:0.25px #161a20">MFA required</div>
<div class="t" style="left:1081.48px;top:670.95px;font-size:20.5px;font-weight:400;color:#161a20;transform:scaleX(0.9700);-webkit-text-stroke:0.25px #161a20">Location:</div>
<div class="t" style="left:1037.53px;top:693.85px;font-size:20.5px;font-weight:400;color:#161a20;transform:scaleX(0.9651);-webkit-text-stroke:0.25px #161a20">[Approved System]</div>
<div class="t" style="left:1319.72px;top:632.65px;font-size:20.5px;font-weight:400;color:#161a20;transform:scaleX(0.9793);-webkit-text-stroke:0.25px #161a20">Inherits policy schedule</div>
<div class="t" style="left:1351.33px;top:655.95px;font-size:20.5px;font-weight:400;color:#161a20;transform:scaleX(0.9700);-webkit-text-stroke:0.25px #161a20">Disposition date:</div>
<div class="t" style="left:1371.85px;top:678.95px;font-size:20.5px;font-weight:400;color:#161a20;transform:scaleX(0.9700);-webkit-text-stroke:0.25px #161a20">[Calculated]</div>
<div class="t" style="left:1626.03px;top:632.65px;font-size:20.5px;font-weight:400;color:#161a20;transform:scaleX(0.9667);-webkit-text-stroke:0.25px #161a20">NIST 800-88 compliant</div>
<div class="t" style="left:1617px;top:655.95px;font-size:20.5px;font-weight:400;color:#161a20;transform:scaleX(0.9971);-webkit-text-stroke:0.25px #161a20">Certificate of destruction</div>
<div class="t" style="left:681.08px;top:760.65px;font-size:31.7px;font-weight:700;color:#e8604a;transform:scaleX(0.9226)">CHAIN-OF-CUSTODY DOCUMENTATION</div>
<div class="t" style="left:127.1px;top:909px;font-size:26px;font-weight:700;color:#161a20;transform:scaleX(0.9005);-webkit-text-stroke:0.7px #161a20">Request form</div>
<div class="t" style="left:422.5px;top:909px;font-size:26px;font-weight:700;color:#161a20;transform:scaleX(0.8797);-webkit-text-stroke:0.7px #161a20">Approval record</div>
<div class="t" style="left:761.12px;top:909px;font-size:26px;font-weight:700;color:#161a20;transform:scaleX(0.8802);-webkit-text-stroke:0.7px #161a20">Export log</div>
<div class="t" style="left:1061px;top:909px;font-size:26px;font-weight:700;color:#161a20;transform:scaleX(0.8797);-webkit-text-stroke:0.7px #161a20">Access log</div>
<div class="t" style="left:1332.11px;top:909px;font-size:26px;font-weight:700;color:#161a20;transform:scaleX(0.8902);-webkit-text-stroke:0.7px #161a20">Retention record</div>
<div class="t" style="left:1620.1px;top:909px;font-size:26px;font-weight:700;color:#161a20;transform:scaleX(0.9031);-webkit-text-stroke:0.7px #161a20">Disposal certificate</div>
<div class="t" style="left:172.74px;top:965.6px;font-size:26px;font-weight:700;color:#161a20;transform:scaleX(0.8598);-webkit-text-stroke:0.7px #161a20">Day 0</div>
<div class="t" style="left:463.83px;top:965.6px;font-size:26px;font-weight:700;color:#161a20;transform:scaleX(0.8749);-webkit-text-stroke:0.7px #161a20">Days 1-3</div>
<div class="t" style="left:769.1px;top:965.6px;font-size:26px;font-weight:700;color:#161a20;transform:scaleX(0.9005);-webkit-text-stroke:0.7px #161a20">Days 3-5</div>
<div class="t" style="left:1185.13px;top:965.6px;font-size:26px;font-weight:700;color:#161a20;transform:scaleX(0.8746);-webkit-text-stroke:0.7px #161a20">Retention period</div>
<div class="t" style="left:1655.13px;top:965.6px;font-size:26px;font-weight:700;color:#161a20;transform:scaleX(0.8685);-webkit-text-stroke:0.7px #161a20">DISPOSITION</div>
<div class="t" style="left:703.4px;top:1008.7px;font-size:24.6px;font-weight:400;color:#161a20;transform:scaleX(0.9253);-webkit-text-stroke:0.25px #161a20">Typical timeline: 5 days to export + retention period</div>
</body></html>
